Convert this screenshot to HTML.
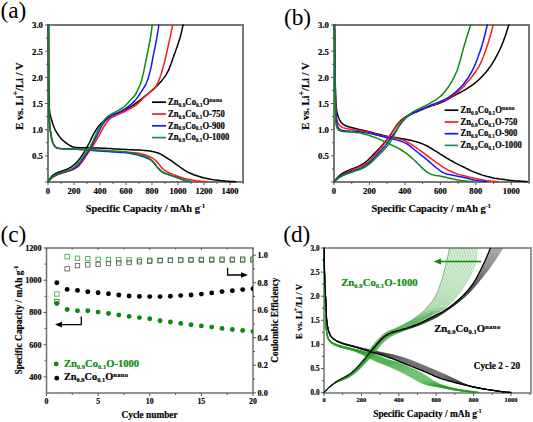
<!DOCTYPE html><html><head><meta charset="utf-8"><style>html,body{margin:0;padding:0;background:#fff;}svg{display:block;font-family:"Liberation Serif",serif;font-variant-ligatures:none;font-kerning:normal;}</style></head><body><svg width="533" height="422" viewBox="0 0 533 422" font-family="Liberation Serif, serif">
<rect width="533" height="422" fill="#fff"/>
<rect x="48" y="25" width="195" height="157" fill="none" stroke="#787878" stroke-width="2"/>
<line x1="48.00" y1="182" x2="48.00" y2="185" stroke="#555" stroke-width="1"/>
<line x1="61.00" y1="182" x2="61.00" y2="184" stroke="#555" stroke-width="1"/>
<line x1="74.00" y1="182" x2="74.00" y2="185" stroke="#555" stroke-width="1"/>
<line x1="87.00" y1="182" x2="87.00" y2="184" stroke="#555" stroke-width="1"/>
<line x1="100.00" y1="182" x2="100.00" y2="185" stroke="#555" stroke-width="1"/>
<line x1="113.00" y1="182" x2="113.00" y2="184" stroke="#555" stroke-width="1"/>
<line x1="126.00" y1="182" x2="126.00" y2="185" stroke="#555" stroke-width="1"/>
<line x1="139.00" y1="182" x2="139.00" y2="184" stroke="#555" stroke-width="1"/>
<line x1="152.00" y1="182" x2="152.00" y2="185" stroke="#555" stroke-width="1"/>
<line x1="165.00" y1="182" x2="165.00" y2="184" stroke="#555" stroke-width="1"/>
<line x1="178.00" y1="182" x2="178.00" y2="185" stroke="#555" stroke-width="1"/>
<line x1="191.00" y1="182" x2="191.00" y2="184" stroke="#555" stroke-width="1"/>
<line x1="204.00" y1="182" x2="204.00" y2="185" stroke="#555" stroke-width="1"/>
<line x1="217.00" y1="182" x2="217.00" y2="184" stroke="#555" stroke-width="1"/>
<line x1="230.00" y1="182" x2="230.00" y2="185" stroke="#555" stroke-width="1"/>
<line x1="243.00" y1="182" x2="243.00" y2="184" stroke="#555" stroke-width="1"/>
<text x="48.00" y="194.4" font-size="8.6" font-weight="bold" text-anchor="middle" fill="#000" stroke="#000" stroke-width="0.18" >0</text>
<text x="74.00" y="194.4" font-size="8.6" font-weight="bold" text-anchor="middle" fill="#000" stroke="#000" stroke-width="0.18" >200</text>
<text x="100.00" y="194.4" font-size="8.6" font-weight="bold" text-anchor="middle" fill="#000" stroke="#000" stroke-width="0.18" >400</text>
<text x="126.00" y="194.4" font-size="8.6" font-weight="bold" text-anchor="middle" fill="#000" stroke="#000" stroke-width="0.18" >600</text>
<text x="152.00" y="194.4" font-size="8.6" font-weight="bold" text-anchor="middle" fill="#000" stroke="#000" stroke-width="0.18" >800</text>
<text x="178.00" y="194.4" font-size="8.6" font-weight="bold" text-anchor="middle" fill="#000" stroke="#000" stroke-width="0.18" >1000</text>
<text x="204.00" y="194.4" font-size="8.6" font-weight="bold" text-anchor="middle" fill="#000" stroke="#000" stroke-width="0.18" >1200</text>
<text x="230.00" y="194.4" font-size="8.6" font-weight="bold" text-anchor="middle" fill="#000" stroke="#000" stroke-width="0.18" >1400</text>
<line x1="45" y1="182.00" x2="48" y2="182.00" stroke="#555" stroke-width="1"/>
<line x1="46" y1="168.92" x2="48" y2="168.92" stroke="#555" stroke-width="1"/>
<line x1="45" y1="155.83" x2="48" y2="155.83" stroke="#555" stroke-width="1"/>
<line x1="46" y1="142.75" x2="48" y2="142.75" stroke="#555" stroke-width="1"/>
<line x1="45" y1="129.67" x2="48" y2="129.67" stroke="#555" stroke-width="1"/>
<line x1="46" y1="116.58" x2="48" y2="116.58" stroke="#555" stroke-width="1"/>
<line x1="45" y1="103.50" x2="48" y2="103.50" stroke="#555" stroke-width="1"/>
<line x1="46" y1="90.42" x2="48" y2="90.42" stroke="#555" stroke-width="1"/>
<line x1="45" y1="77.33" x2="48" y2="77.33" stroke="#555" stroke-width="1"/>
<line x1="46" y1="64.25" x2="48" y2="64.25" stroke="#555" stroke-width="1"/>
<line x1="45" y1="51.17" x2="48" y2="51.17" stroke="#555" stroke-width="1"/>
<line x1="46" y1="38.08" x2="48" y2="38.08" stroke="#555" stroke-width="1"/>
<line x1="45" y1="25.00" x2="48" y2="25.00" stroke="#555" stroke-width="1"/>
<text x="43.00" y="159.23" font-size="8.8" font-weight="bold" text-anchor="end" fill="#000" stroke="#000" stroke-width="0.18" >0.5</text>
<text x="43.00" y="133.07" font-size="8.8" font-weight="bold" text-anchor="end" fill="#000" stroke="#000" stroke-width="0.18" >1.0</text>
<text x="43.00" y="106.90" font-size="8.8" font-weight="bold" text-anchor="end" fill="#000" stroke="#000" stroke-width="0.18" >1.5</text>
<text x="43.00" y="80.73" font-size="8.8" font-weight="bold" text-anchor="end" fill="#000" stroke="#000" stroke-width="0.18" >2.0</text>
<text x="43.00" y="54.57" font-size="8.8" font-weight="bold" text-anchor="end" fill="#000" stroke="#000" stroke-width="0.18" >2.5</text>
<text x="43.00" y="28.40" font-size="8.8" font-weight="bold" text-anchor="end" fill="#000" stroke="#000" stroke-width="0.18" >3.0</text>
<text x="85.7" y="211.5" font-size="10.8" font-weight="bold" text-anchor="start" fill="#000" stroke="#000" stroke-width="0.18" textLength="119.3" lengthAdjust="spacingAndGlyphs" >Specific Capacity / mAh g<tspan font-size="6.5" dy="-4">-1</tspan></text>
<g transform="translate(22.7,96.1) rotate(-90)">
<text x="0" y="0" font-size="11.2" font-weight="bold" text-anchor="middle" fill="#000" stroke="#000" stroke-width="0.18" textLength="67.4" lengthAdjust="spacingAndGlyphs" >E vs. Li<tspan font-size="8.5" dy="-4.5">+</tspan><tspan dy="4.5">/Li / V</tspan></text>
</g>
<text x="0.5" y="17.6" font-size="23.3" font-weight="normal" text-anchor="start" fill="#000" >(a)</text>
<path d="M48.5 25.0 48.5 27.5 48.5 30.0 48.5 32.5 48.6 35.0 48.6 37.5 48.6 40.0 48.6 42.6 48.6 45.1 48.6 47.6 48.7 50.1 48.7 52.6 48.7 55.1 48.7 57.6 48.7 60.1 48.7 62.6 48.7 65.1 48.8 67.6 48.8 70.1 48.8 72.7 48.8 75.2 48.8 77.7 48.9 80.2 48.9 82.7 48.9 85.2 48.9 87.7 48.9 90.2 49.0 92.7 49.0 95.2 49.0 97.7 49.1 100.2 49.1 102.8 49.2 105.3 49.3 107.8 49.5 110.3 49.8 112.8 50.3 115.2 50.9 117.7 51.6 120.1 52.4 122.5 53.1 124.8 54.0 127.2 55.0 129.5 56.2 131.7 57.5 133.8 59.0 135.9 60.5 137.9 62.2 139.7 64.1 141.4 66.0 142.9 68.1 144.4 70.2 145.7 72.5 146.8 74.9 147.3 77.4 147.5 79.9 147.7 82.4 147.8 84.9 147.8 87.4 147.8 89.9 147.9 92.4 147.9 94.9 148.0 97.5 148.0 100.0 148.1 102.5 148.2 105.0 148.3 107.5 148.5 110.0 148.6 112.5 148.7 115.0 148.9 117.5 149.0 120.0 149.2 122.5 149.3 125.0 149.4 127.5 149.6 130.0 149.7 132.5 149.8 135.0 149.9 137.5 150.0 140.0 150.1 142.5 150.3 145.0 150.4 147.5 150.7 150.0 151.0 152.5 151.5 154.9 152.1 157.3 152.8 159.7 153.7 161.9 154.8 164.0 156.1 166.1 157.5 168.3 158.8 170.4 160.1 172.5 161.6 174.5 163.1 176.5 164.6 178.5 166.0 180.6 167.5 182.6 168.9 184.7 170.3 186.9 171.6 189.1 172.8 191.4 173.8 193.7 174.7 196.1 175.5 198.5 176.3 200.9 177.0 203.3 177.7 205.7 178.3 208.2 178.8 210.7 179.3 213.1 179.7 215.6 180.0 218.1 180.3 220.6 180.6 223.1 180.8 225.6 181.1 228.1 181.3 230.6 181.5 233.1 181.6 235.6 181.8" fill="none" stroke="#000" stroke-width="1.5" stroke-linejoin="round" stroke-linecap="round"/>
<path d="M48.3 181.5 49.5 179.3 50.9 177.2 52.6 175.4 54.7 174.0 56.9 172.9 59.3 172.0 61.7 171.1 64.0 170.3 66.4 169.4 68.7 168.4 70.9 167.1 73.0 165.7 74.9 164.2 76.7 162.4 78.3 160.5 79.9 158.5 81.3 156.4 82.8 154.4 84.1 152.3 85.4 150.1 86.7 147.9 87.8 145.7 89.0 143.5 90.1 141.2 91.2 138.9 92.3 136.7 93.4 134.4 94.7 132.2 96.0 130.1 97.3 128.0 98.8 126.0 100.5 124.1 102.3 122.3 104.2 120.7 106.2 119.1 108.2 117.6 110.3 116.3 112.6 115.1 114.9 114.1 117.2 113.2 119.6 112.3 121.9 111.3 124.1 110.2 126.4 109.1 128.6 107.9 130.8 106.6 132.9 105.3 135.0 103.9 137.0 102.4 139.0 100.9 141.0 99.3 143.0 97.8 144.9 96.2 146.9 94.6 148.8 93.0 150.7 91.4 152.6 89.7 154.5 88.1 156.4 86.4 158.2 84.6 159.9 82.8 161.5 80.9 163.1 78.9 164.7 76.9 166.1 74.8 167.3 72.7 168.4 70.4 169.4 68.1 170.3 65.7 171.2 63.4 172.0 61.0 172.8 58.6 173.7 56.3 174.5 53.9 175.4 51.5 176.2 49.2 177.1 46.8 177.9 44.4 178.7 42.0 179.5 39.6 180.2 37.2 180.8 34.8 181.4 32.4 182.0 29.9 182.5 27.5 183.1 25.0" fill="none" stroke="#000" stroke-width="1.5" stroke-linejoin="round" stroke-linecap="round"/>
<path d="M48.5 25.0 48.5 27.5 48.5 30.0 48.5 32.5 48.5 35.0 48.5 37.5 48.5 40.0 48.5 42.5 48.5 45.1 48.5 47.6 48.5 50.1 48.5 52.6 48.5 55.1 48.5 57.6 48.5 60.1 48.5 62.6 48.5 65.1 48.6 67.6 48.6 70.1 48.6 72.6 48.6 75.1 48.6 77.6 48.6 80.1 48.6 82.6 48.6 85.2 48.6 87.7 48.7 90.2 48.7 92.7 48.7 95.2 48.7 97.7 48.7 100.2 48.8 102.7 48.8 105.2 48.8 107.7 48.9 110.2 49.0 112.7 49.1 115.2 49.2 117.7 49.3 120.2 49.5 122.7 49.8 125.2 50.1 127.7 50.4 130.2 50.7 132.7 51.1 135.2 51.5 137.6 52.0 140.1 52.8 142.5 53.8 144.8 55.2 146.8 57.3 148.2 59.8 148.6 62.3 148.7 64.8 148.9 67.3 148.9 69.8 149.0 72.3 149.1 74.8 149.2 77.3 149.3 79.8 149.4 82.3 149.5 84.8 149.6 87.3 149.7 89.8 149.8 92.3 149.9 94.8 150.0 97.3 150.2 99.8 150.3 102.3 150.4 104.8 150.6 107.3 150.8 109.8 150.9 112.3 151.1 114.8 151.3 117.3 151.4 119.8 151.6 122.3 151.8 124.8 152.0 127.3 152.2 129.8 152.4 132.3 152.5 134.8 152.8 137.3 153.1 139.8 153.5 142.2 154.1 144.6 154.7 147.0 155.5 149.3 156.5 151.6 157.6 153.7 159.0 155.6 160.5 157.4 162.3 159.0 164.3 160.5 166.3 162.1 168.1 164.0 169.8 166.1 171.2 168.3 172.5 170.5 173.5 172.9 174.4 175.2 175.3 177.6 176.2 179.9 177.0 182.3 177.8 184.7 178.5 187.2 179.1 189.6 179.6 192.1 180.1 194.5 180.5 197.0 180.9 199.5 181.1 202.0 181.4 204.5 181.6 207.0 181.8" fill="none" stroke="#ff1a1a" stroke-width="1.5" stroke-linejoin="round" stroke-linecap="round"/>
<path d="M48.3 181.5 50.1 179.7 51.9 178.0 54.0 176.5 56.2 175.3 58.5 174.3 60.9 173.5 63.3 172.7 65.7 172.0 68.1 171.3 70.6 170.5 72.9 169.6 75.2 168.5 77.3 167.1 79.2 165.4 80.8 163.5 82.4 161.5 83.8 159.4 85.1 157.3 86.5 155.2 88.0 153.1 89.5 151.1 90.9 149.0 92.3 146.9 93.7 144.8 94.9 142.6 96.2 140.4 97.5 138.2 98.8 136.1 100.0 133.9 101.2 131.7 102.4 129.4 103.6 127.2 104.9 125.0 106.2 122.9 107.8 120.9 109.6 119.1 111.7 117.7 113.9 116.5 116.2 115.4 118.5 114.4 120.8 113.4 123.1 112.3 125.4 111.2 127.6 110.1 129.9 108.9 132.1 107.7 134.2 106.4 136.3 104.9 138.1 103.2 139.9 101.4 141.7 99.6 143.5 97.8 145.4 96.1 147.2 94.4 149.2 92.8 151.2 91.3 153.2 89.8 155.0 88.0 156.4 85.9 157.5 83.6 158.5 81.3 159.4 78.9 160.3 76.6 161.1 74.2 161.8 71.7 162.5 69.3 163.2 66.9 163.8 64.4 164.5 62.0 165.1 59.5 165.7 57.1 166.3 54.6 166.8 52.2 167.4 49.7 167.9 47.2 168.5 44.8 169.0 42.3 169.5 39.8 170.1 37.4 170.6 34.9 171.1 32.4 171.6 29.9 172.2 27.5 172.7 25.0" fill="none" stroke="#ff1a1a" stroke-width="1.5" stroke-linejoin="round" stroke-linecap="round"/>
<path d="M48.5 25.0 48.5 27.5 48.5 30.0 48.5 32.5 48.5 35.1 48.5 37.6 48.5 40.1 48.5 42.6 48.5 45.1 48.5 47.6 48.5 50.2 48.5 52.7 48.5 55.2 48.5 57.7 48.5 60.2 48.5 62.7 48.5 65.3 48.6 67.8 48.6 70.3 48.6 72.8 48.6 75.3 48.6 77.8 48.6 80.4 48.6 82.9 48.6 85.4 48.6 87.9 48.7 90.4 48.7 92.9 48.7 95.5 48.7 98.0 48.7 100.5 48.8 103.0 48.8 105.5 48.9 108.0 48.9 110.5 49.0 113.1 49.1 115.6 49.2 118.1 49.4 120.6 49.6 123.1 49.8 125.6 50.1 128.1 50.4 130.6 50.7 133.1 51.1 135.6 51.6 138.1 52.1 140.5 52.9 142.9 54.0 145.2 55.5 147.1 57.7 148.3 60.2 148.6 62.8 148.7 65.3 148.8 67.8 148.9 70.3 149.0 72.8 149.1 75.3 149.2 77.8 149.3 80.4 149.4 82.9 149.6 85.4 149.8 87.9 150.0 90.4 150.3 92.9 150.5 95.4 150.7 97.9 150.9 100.4 151.1 102.9 151.3 105.4 151.5 107.9 151.6 110.5 151.8 113.0 151.9 115.5 152.1 118.0 152.2 120.5 152.4 123.0 152.6 125.5 152.8 128.0 153.1 130.5 153.5 133.0 153.9 135.4 154.5 137.9 155.1 140.3 155.8 142.7 156.5 145.1 157.3 147.4 158.3 149.7 159.4 151.8 160.8 153.6 162.4 155.3 164.4 156.7 166.4 158.3 168.4 160.1 170.1 162.0 171.7 164.2 173.0 166.5 173.9 168.9 174.7 171.3 175.6 173.7 176.4 176.1 177.2 178.4 178.1 180.8 179.0 183.1 179.8 185.6 180.4 188.0 181.0 190.5 181.5" fill="none" stroke="#1414ff" stroke-width="1.5" stroke-linejoin="round" stroke-linecap="round"/>
<path d="M48.3 181.5 50.0 179.6 51.7 177.8 53.7 176.2 55.8 175.0 58.1 174.0 60.5 173.2 62.9 172.4 65.3 171.7 67.7 171.0 70.1 170.2 72.5 169.3 74.7 168.1 76.7 166.7 78.6 165.0 80.2 163.1 81.7 161.1 83.1 159.0 84.5 156.9 85.9 154.8 87.4 152.8 88.8 150.7 90.2 148.6 91.5 146.4 92.6 144.2 93.7 141.9 94.8 139.7 96.0 137.4 97.2 135.2 98.3 133.0 99.4 130.7 100.5 128.5 101.6 126.2 102.9 124.1 104.4 122.0 106.0 120.1 107.9 118.4 109.9 116.9 112.1 115.7 114.3 114.5 116.6 113.5 118.8 112.4 121.1 111.2 123.2 109.9 125.3 108.6 127.4 107.2 129.4 105.7 131.4 104.1 133.2 102.4 135.0 100.6 136.6 98.6 138.0 96.6 139.4 94.5 140.8 92.4 142.2 90.3 143.6 88.2 144.9 86.0 146.0 83.8 147.0 81.5 147.9 79.1 148.6 76.7 149.3 74.3 149.9 71.9 150.5 69.4 151.1 67.0 151.6 64.5 152.1 62.1 152.5 59.6 153.0 57.1 153.5 54.7 154.0 52.2 154.5 49.7 155.0 47.3 155.5 44.8 156.0 42.3 156.4 39.9 156.9 37.4 157.3 34.9 157.7 32.4 158.1 30.0 158.5 27.5 158.9 25.0" fill="none" stroke="#1414ff" stroke-width="1.5" stroke-linejoin="round" stroke-linecap="round"/>
<path d="M48.5 25.0 48.5 27.5 48.5 30.0 48.5 32.6 48.5 35.1 48.5 37.6 48.5 40.1 48.5 42.6 48.5 45.2 48.5 47.7 48.5 50.2 48.5 52.7 48.5 55.2 48.5 57.8 48.5 60.3 48.5 62.8 48.5 65.3 48.6 67.8 48.6 70.4 48.6 72.9 48.6 75.4 48.6 77.9 48.6 80.4 48.6 83.0 48.6 85.5 48.6 88.0 48.7 90.5 48.7 93.1 48.7 95.6 48.7 98.1 48.7 100.6 48.8 103.1 48.8 105.7 48.9 108.2 48.9 110.7 49.0 113.2 49.1 115.7 49.2 118.2 49.4 120.8 49.6 123.3 49.8 125.8 50.1 128.3 50.4 130.8 50.8 133.3 51.2 135.8 51.6 138.3 52.2 140.7 53.0 143.1 54.1 145.4 55.7 147.3 58.0 148.3 60.5 148.6 63.0 148.8 65.5 148.9 68.0 149.0 70.5 149.1 73.0 149.1 75.6 149.2 78.1 149.3 80.6 149.4 83.1 149.5 85.6 149.6 88.2 149.7 90.7 149.8 93.2 149.9 95.7 150.1 98.2 150.2 100.7 150.3 103.3 150.5 105.8 150.6 108.3 150.8 110.8 150.9 113.3 151.1 115.8 151.2 118.4 151.4 120.9 151.6 123.4 151.8 125.9 152.1 128.4 152.4 130.9 152.7 133.4 153.2 135.8 153.8 138.3 154.4 140.7 155.1 143.1 155.8 145.5 156.6 147.8 157.6 149.9 158.9 151.9 160.5 153.6 162.4 155.2 164.3 156.7 166.4 158.3 168.3 160.0 170.1 162.0 171.7 164.2 173.0 166.5 173.9 168.9 174.7 171.3 175.6 173.7 176.4 176.0 177.2 178.4 178.1 180.7 179.0 183.1 179.8 185.6 180.4 188.0 181.0 190.5 181.5" fill="none" stroke="#0a8a14" stroke-width="1.5" stroke-linejoin="round" stroke-linecap="round"/>
<path d="M48.3 181.5 49.9 179.5 51.5 177.6 53.4 176.0 55.6 174.7 57.9 173.7 60.3 172.9 62.7 172.1 65.1 171.3 67.5 170.5 69.8 169.6 72.1 168.6 74.3 167.2 76.2 165.6 78.0 163.8 79.6 161.9 81.0 159.8 82.5 157.8 83.9 155.7 85.4 153.7 86.9 151.6 88.4 149.6 89.7 147.5 90.9 145.3 92.1 143.0 93.2 140.7 94.2 138.4 95.3 136.1 96.3 133.9 97.4 131.6 98.5 129.3 99.7 127.1 100.9 124.9 102.3 122.7 103.7 120.7 105.3 118.7 107.1 117.0 109.1 115.4 111.3 114.1 113.5 113.0 115.7 111.8 117.9 110.6 120.1 109.3 122.3 108.0 124.3 106.5 126.2 104.8 127.9 103.0 129.5 101.1 131.2 99.2 133.0 97.4 134.7 95.5 136.1 93.4 137.2 91.2 138.3 88.9 139.3 86.6 140.2 84.2 141.0 81.9 141.8 79.4 142.4 77.0 143.0 74.6 143.6 72.1 144.1 69.6 144.6 67.2 145.1 64.7 145.6 62.2 146.1 59.7 146.6 57.3 147.1 54.8 147.6 52.3 148.1 49.9 148.6 47.4 149.1 44.9 149.6 42.5 150.1 40.0 150.5 37.5 150.9 35.0 151.3 32.5 151.6 30.0 151.9 27.5 152.2 25.0" fill="none" stroke="#0a8a14" stroke-width="1.5" stroke-linejoin="round" stroke-linecap="round"/>
<line x1="152" y1="102.2" x2="166" y2="102.2" stroke="#000" stroke-width="1.7"/>
<text x="168" y="104.90" font-size="9.8" font-weight="bold" text-anchor="start" fill="#000" stroke="#000" stroke-width="0.18" textLength="54.3" lengthAdjust="spacingAndGlyphs" >Zn<tspan font-size="6.08" dy="1.96">0.9</tspan><tspan dy="-1.96">Co</tspan><tspan font-size="6.08" dy="1.96">0.1</tspan><tspan dy="-1.96">O</tspan><tspan font-size="6.27" dy="-2.94" letter-spacing="0.3">nano</tspan></text>
<line x1="152" y1="114.0" x2="166" y2="114.0" stroke="#ff1a1a" stroke-width="1.7"/>
<text x="168" y="116.70" font-size="9.8" font-weight="bold" text-anchor="start" fill="#000" stroke="#000" stroke-width="0.18" textLength="56.9" lengthAdjust="spacingAndGlyphs" >Zn<tspan font-size="6.08" dy="1.96">0.9</tspan><tspan dy="-1.96">Co</tspan><tspan font-size="6.08" dy="1.96">0.1</tspan><tspan dy="-1.96">O</tspan>-750</text>
<line x1="152" y1="125.8" x2="166" y2="125.8" stroke="#1414ff" stroke-width="1.7"/>
<text x="168" y="128.50" font-size="9.8" font-weight="bold" text-anchor="start" fill="#000" stroke="#000" stroke-width="0.18" textLength="56.9" lengthAdjust="spacingAndGlyphs" >Zn<tspan font-size="6.08" dy="1.96">0.9</tspan><tspan dy="-1.96">Co</tspan><tspan font-size="6.08" dy="1.96">0.1</tspan><tspan dy="-1.96">O</tspan>-900</text>
<line x1="152" y1="137.6" x2="166" y2="137.6" stroke="#1e8a5a" stroke-width="1.7"/>
<text x="168" y="140.30" font-size="9.8" font-weight="bold" text-anchor="start" fill="#000" stroke="#000" stroke-width="0.18" textLength="61.3" lengthAdjust="spacingAndGlyphs" >Zn<tspan font-size="6.08" dy="1.96">0.9</tspan><tspan dy="-1.96">Co</tspan><tspan font-size="6.08" dy="1.96">0.1</tspan><tspan dy="-1.96">O</tspan>-1000</text>
<rect x="334" y="25" width="195" height="157" fill="none" stroke="#787878" stroke-width="2"/>
<line x1="334.00" y1="182" x2="334.00" y2="185" stroke="#555" stroke-width="1"/>
<line x1="351.73" y1="182" x2="351.73" y2="184" stroke="#555" stroke-width="1"/>
<line x1="369.45" y1="182" x2="369.45" y2="185" stroke="#555" stroke-width="1"/>
<line x1="387.18" y1="182" x2="387.18" y2="184" stroke="#555" stroke-width="1"/>
<line x1="404.91" y1="182" x2="404.91" y2="185" stroke="#555" stroke-width="1"/>
<line x1="422.64" y1="182" x2="422.64" y2="184" stroke="#555" stroke-width="1"/>
<line x1="440.36" y1="182" x2="440.36" y2="185" stroke="#555" stroke-width="1"/>
<line x1="458.09" y1="182" x2="458.09" y2="184" stroke="#555" stroke-width="1"/>
<line x1="475.82" y1="182" x2="475.82" y2="185" stroke="#555" stroke-width="1"/>
<line x1="493.55" y1="182" x2="493.55" y2="184" stroke="#555" stroke-width="1"/>
<line x1="511.27" y1="182" x2="511.27" y2="185" stroke="#555" stroke-width="1"/>
<line x1="529.00" y1="182" x2="529.00" y2="184" stroke="#555" stroke-width="1"/>
<text x="334.00" y="194.4" font-size="8.6" font-weight="bold" text-anchor="middle" fill="#000" stroke="#000" stroke-width="0.18" >0</text>
<text x="369.45" y="194.4" font-size="8.6" font-weight="bold" text-anchor="middle" fill="#000" stroke="#000" stroke-width="0.18" >200</text>
<text x="404.91" y="194.4" font-size="8.6" font-weight="bold" text-anchor="middle" fill="#000" stroke="#000" stroke-width="0.18" >400</text>
<text x="440.36" y="194.4" font-size="8.6" font-weight="bold" text-anchor="middle" fill="#000" stroke="#000" stroke-width="0.18" >600</text>
<text x="475.82" y="194.4" font-size="8.6" font-weight="bold" text-anchor="middle" fill="#000" stroke="#000" stroke-width="0.18" >800</text>
<text x="511.27" y="194.4" font-size="8.6" font-weight="bold" text-anchor="middle" fill="#000" stroke="#000" stroke-width="0.18" >1000</text>
<line x1="331" y1="182.00" x2="334" y2="182.00" stroke="#555" stroke-width="1"/>
<line x1="332" y1="168.92" x2="334" y2="168.92" stroke="#555" stroke-width="1"/>
<line x1="331" y1="155.83" x2="334" y2="155.83" stroke="#555" stroke-width="1"/>
<line x1="332" y1="142.75" x2="334" y2="142.75" stroke="#555" stroke-width="1"/>
<line x1="331" y1="129.67" x2="334" y2="129.67" stroke="#555" stroke-width="1"/>
<line x1="332" y1="116.58" x2="334" y2="116.58" stroke="#555" stroke-width="1"/>
<line x1="331" y1="103.50" x2="334" y2="103.50" stroke="#555" stroke-width="1"/>
<line x1="332" y1="90.42" x2="334" y2="90.42" stroke="#555" stroke-width="1"/>
<line x1="331" y1="77.33" x2="334" y2="77.33" stroke="#555" stroke-width="1"/>
<line x1="332" y1="64.25" x2="334" y2="64.25" stroke="#555" stroke-width="1"/>
<line x1="331" y1="51.17" x2="334" y2="51.17" stroke="#555" stroke-width="1"/>
<line x1="332" y1="38.08" x2="334" y2="38.08" stroke="#555" stroke-width="1"/>
<line x1="331" y1="25.00" x2="334" y2="25.00" stroke="#555" stroke-width="1"/>
<text x="329.00" y="159.23" font-size="8.8" font-weight="bold" text-anchor="end" fill="#000" stroke="#000" stroke-width="0.18" >0.5</text>
<text x="329.00" y="133.07" font-size="8.8" font-weight="bold" text-anchor="end" fill="#000" stroke="#000" stroke-width="0.18" >1.0</text>
<text x="329.00" y="106.90" font-size="8.8" font-weight="bold" text-anchor="end" fill="#000" stroke="#000" stroke-width="0.18" >1.5</text>
<text x="329.00" y="80.73" font-size="8.8" font-weight="bold" text-anchor="end" fill="#000" stroke="#000" stroke-width="0.18" >2.0</text>
<text x="329.00" y="54.57" font-size="8.8" font-weight="bold" text-anchor="end" fill="#000" stroke="#000" stroke-width="0.18" >2.5</text>
<text x="329.00" y="28.40" font-size="8.8" font-weight="bold" text-anchor="end" fill="#000" stroke="#000" stroke-width="0.18" >3.0</text>
<text x="371.4" y="211.5" font-size="10.8" font-weight="bold" text-anchor="start" fill="#000" stroke="#000" stroke-width="0.18" textLength="119.6" lengthAdjust="spacingAndGlyphs" >Specific Capacity / mAh g<tspan font-size="6.5" dy="-4">-1</tspan></text>
<g transform="translate(308.5,96.1) rotate(-90)">
<text x="0" y="0" font-size="11.2" font-weight="bold" text-anchor="middle" fill="#000" stroke="#000" stroke-width="0.18" textLength="67.4" lengthAdjust="spacingAndGlyphs" >E vs. Li<tspan font-size="8.5" dy="-4.5">+</tspan><tspan dy="4.5">/Li / V</tspan></text>
</g>
<text x="283.9" y="25.1" font-size="23.3" font-weight="normal" text-anchor="start" fill="#000" >(b)</text>
<path d="M334.5 25.0 334.5 27.5 334.6 30.0 334.6 32.5 334.6 35.0 334.7 37.5 334.7 40.0 334.7 42.6 334.7 45.1 334.8 47.6 334.8 50.1 334.8 52.6 334.9 55.1 334.9 57.6 334.9 60.1 335.0 62.6 335.0 65.1 335.0 67.6 335.1 70.1 335.1 72.7 335.1 75.2 335.2 77.7 335.2 80.2 335.2 82.7 335.3 85.2 335.3 87.7 335.4 90.2 335.4 92.7 335.5 95.2 335.6 97.7 335.7 100.2 335.8 102.7 336.0 105.2 336.3 107.7 336.6 110.2 337.1 112.7 337.7 115.1 338.5 117.5 339.6 119.8 340.8 121.9 342.5 123.8 344.6 125.2 346.9 126.2 349.3 127.0 351.7 127.6 354.1 128.2 356.6 128.8 359.0 129.4 361.5 130.0 363.9 130.6 366.3 131.1 368.8 131.7 371.2 132.3 373.6 132.9 376.1 133.6 378.5 134.2 380.9 134.8 383.4 135.4 385.8 136.0 388.3 136.5 390.8 136.9 393.2 137.2 395.7 137.6 398.2 138.0 400.7 138.4 403.2 138.7 405.6 139.2 408.1 139.7 410.5 140.2 413.0 140.9 415.4 141.5 417.8 142.2 420.2 143.0 422.5 143.9 424.8 144.9 427.1 146.0 429.2 147.2 431.4 148.5 433.5 149.8 435.7 151.1 437.8 152.4 439.9 153.8 442.1 155.1 444.2 156.5 446.3 157.8 448.5 159.0 450.6 160.3 452.8 161.5 455.0 162.8 457.2 163.9 459.5 165.1 461.7 166.1 464.0 167.2 466.2 168.4 468.5 169.5 470.7 170.6 473.0 171.6 475.4 172.5 477.7 173.4 480.1 174.3 482.5 175.1 484.8 175.8 487.3 176.5 489.7 177.1 492.1 177.7 494.6 178.2 497.1 178.6 499.5 179.0 502.0 179.3 504.5 179.6 507.0 179.9 509.5 180.2 512.0 180.4 514.5 180.7 517.0 180.9 519.5 181.1 522.0 181.3 524.5 181.5 527.0 181.6" fill="none" stroke="#000" stroke-width="1.5" stroke-linejoin="round" stroke-linecap="round"/>
<path d="M334.3 181.5 335.8 179.5 337.4 177.6 339.2 175.8 341.2 174.2 343.3 172.9 345.5 171.7 347.8 170.7 350.1 169.7 352.5 168.8 354.8 167.9 357.2 167.0 359.5 165.9 361.7 164.7 363.8 163.4 365.8 161.9 367.7 160.3 369.5 158.5 371.3 156.7 373.0 154.9 374.8 153.1 376.6 151.3 378.3 149.5 380.0 147.7 381.7 145.8 383.3 143.9 384.9 142.0 386.5 140.0 388.1 138.1 389.6 136.0 391.0 134.0 392.3 131.8 393.7 129.7 395.1 127.6 396.5 125.5 398.1 123.6 399.7 121.7 401.5 119.9 403.5 118.3 405.5 116.9 407.7 115.6 409.9 114.5 412.3 113.6 414.6 112.6 416.9 111.7 419.2 110.7 421.6 109.7 423.9 108.8 426.2 107.9 428.6 107.0 431.0 106.1 433.3 105.3 435.7 104.6 438.1 103.7 440.5 102.9 442.8 101.9 445.0 100.8 447.3 99.6 449.5 98.4 451.6 97.1 453.8 95.9 456.0 94.6 458.2 93.5 460.5 92.3 462.7 91.2 464.9 89.9 467.0 88.6 469.1 87.2 471.2 85.8 473.2 84.4 475.2 82.8 477.2 81.2 479.0 79.5 480.8 77.7 482.6 75.9 484.3 74.1 485.9 72.2 487.5 70.2 489.0 68.2 490.5 66.2 491.9 64.1 493.2 62.0 494.5 59.8 495.7 57.6 496.9 55.4 498.1 53.2 499.2 50.9 500.3 48.6 501.3 46.3 502.2 44.0 503.2 41.7 504.0 39.3 504.9 36.9 505.7 34.6 506.5 32.2 507.2 29.8 508.0 27.4 508.8 25.0" fill="none" stroke="#000" stroke-width="1.5" stroke-linejoin="round" stroke-linecap="round"/>
<path d="M334.5 25.0 334.5 27.5 334.6 30.0 334.6 32.5 334.6 35.0 334.7 37.5 334.7 40.0 334.7 42.5 334.7 45.0 334.8 47.5 334.8 50.0 334.8 52.5 334.9 55.0 334.9 57.5 334.9 60.0 335.0 62.5 335.0 65.0 335.0 67.5 335.1 70.0 335.1 72.5 335.1 75.0 335.2 77.5 335.2 80.0 335.2 82.5 335.3 85.0 335.3 87.5 335.4 90.0 335.4 92.5 335.5 95.0 335.6 97.5 335.6 100.0 335.7 102.5 335.8 105.0 335.9 107.5 335.9 110.0 336.0 112.5 336.2 115.0 336.5 117.5 337.0 119.9 337.7 122.3 338.9 124.5 340.6 126.3 342.7 127.6 345.1 128.3 347.6 128.7 350.1 129.0 352.5 129.4 355.0 129.8 357.5 130.2 359.9 130.7 362.4 131.1 364.9 131.6 367.3 132.1 369.7 132.6 372.2 133.3 374.6 133.9 377.0 134.5 379.4 135.2 381.8 135.8 384.3 136.3 386.7 136.8 389.2 137.1 391.7 137.4 394.2 137.8 396.6 138.3 399.0 138.9 401.5 139.6 403.8 140.4 406.1 141.3 408.4 142.5 410.5 143.8 412.6 145.2 414.6 146.6 416.7 148.0 418.7 149.5 420.8 150.9 422.8 152.4 424.8 153.8 426.8 155.3 428.8 156.8 430.8 158.3 432.8 159.8 434.8 161.3 436.9 162.8 438.9 164.2 440.9 165.7 443.0 167.1 445.1 168.4 447.3 169.7 449.5 170.8 451.8 171.8 454.1 172.8 456.4 173.7 458.8 174.4 461.2 175.1 463.7 175.7 466.1 176.3 468.5 176.9 471.0 177.4 473.4 178.0 475.8 178.5 478.3 179.0 480.7 179.5 483.2 180.0 485.7 180.4 488.1 180.7 490.6 181.0 493.1 181.2 495.6 181.4 498.1 181.6" fill="none" stroke="#ff1a1a" stroke-width="1.5" stroke-linejoin="round" stroke-linecap="round"/>
<path d="M334.3 181.5 336.0 179.7 337.8 177.9 339.7 176.3 341.8 174.9 344.0 173.7 346.3 172.6 348.5 171.5 350.8 170.5 353.1 169.5 355.5 168.6 357.8 167.6 360.1 166.6 362.4 165.6 364.6 164.4 366.7 163.1 368.7 161.5 370.4 159.7 372.1 157.8 373.7 155.9 375.4 154.1 377.1 152.2 378.8 150.3 380.4 148.4 382.1 146.5 383.6 144.6 385.1 142.6 386.6 140.5 388.1 138.5 389.5 136.4 390.9 134.3 392.3 132.3 393.7 130.2 395.1 128.1 396.6 126.1 398.2 124.1 399.9 122.3 401.7 120.5 403.6 118.9 405.6 117.4 407.6 116.0 409.8 114.7 412.1 113.6 414.3 112.5 416.6 111.5 418.9 110.5 421.2 109.5 423.5 108.5 425.9 107.5 428.2 106.6 430.5 105.7 432.9 104.9 435.3 104.1 437.6 103.2 440.0 102.4 442.3 101.4 444.6 100.4 446.9 99.3 449.1 98.1 451.2 96.8 453.3 95.4 455.4 93.9 457.3 92.4 459.2 90.8 461.1 89.0 462.8 87.2 464.5 85.4 466.2 83.5 467.8 81.6 469.5 79.7 471.1 77.8 472.6 75.8 474.2 73.8 475.6 71.8 477.0 69.7 478.3 67.5 479.5 65.3 480.6 63.1 481.7 60.8 482.6 58.5 483.6 56.2 484.4 53.8 485.3 51.4 486.1 49.1 486.9 46.7 487.7 44.3 488.5 41.9 489.2 39.5 489.9 37.1 490.6 34.7 491.2 32.3 491.9 29.8 492.5 27.4 493.2 25.0" fill="none" stroke="#ff1a1a" stroke-width="1.5" stroke-linejoin="round" stroke-linecap="round"/>
<path d="M334.5 25.0 334.5 27.5 334.6 30.0 334.6 32.6 334.6 35.1 334.7 37.6 334.7 40.1 334.7 42.7 334.7 45.2 334.8 47.7 334.8 50.2 334.8 52.7 334.9 55.3 334.9 57.8 334.9 60.3 335.0 62.8 335.0 65.3 335.0 67.9 335.1 70.4 335.1 72.9 335.1 75.4 335.2 78.0 335.2 80.5 335.2 83.0 335.3 85.5 335.3 88.0 335.4 90.6 335.4 93.1 335.5 95.6 335.5 98.1 335.6 100.6 335.7 103.2 335.7 105.7 335.8 108.2 335.9 110.7 335.9 113.3 336.0 115.8 336.2 118.3 336.5 120.8 336.9 123.3 337.4 125.7 338.5 128.0 340.4 129.7 342.8 130.4 345.3 130.7 347.8 130.9 350.3 131.1 352.8 131.2 355.4 131.3 357.9 131.6 360.4 131.9 362.9 132.2 365.4 132.7 367.8 133.1 370.3 133.6 372.8 134.1 375.2 134.7 377.7 135.3 380.1 135.9 382.6 136.6 385.0 137.2 387.4 137.8 389.9 138.3 392.4 138.8 394.8 139.4 397.3 140.1 399.7 140.8 402.1 141.6 404.4 142.6 406.7 143.7 408.8 145.1 410.8 146.6 412.7 148.3 414.6 149.9 416.6 151.5 418.5 153.0 420.5 154.6 422.5 156.1 424.5 157.7 426.5 159.3 428.4 160.9 430.3 162.6 432.2 164.2 434.1 165.9 436.0 167.5 438.0 169.0 440.0 170.6 442.1 172.0 444.4 173.1 446.7 174.0 449.2 174.6 451.7 175.0 454.1 175.4 456.6 175.9 459.1 176.4 461.6 176.9 464.0 177.4 466.5 178.0 468.9 178.7 471.3 179.4 473.8 179.9 476.3 180.3 478.8 180.7 481.3 181.0 483.8 181.3 486.3 181.6" fill="none" stroke="#1414ff" stroke-width="1.5" stroke-linejoin="round" stroke-linecap="round"/>
<path d="M334.3 181.5 336.1 179.7 338.0 178.1 340.1 176.6 342.2 175.3 344.5 174.2 346.8 173.2 349.2 172.2 351.5 171.4 353.9 170.6 356.3 169.7 358.7 168.9 361.0 167.9 363.3 166.8 365.5 165.5 367.5 164.1 369.5 162.4 371.3 160.7 373.1 158.9 374.8 157.1 376.5 155.2 378.2 153.3 379.9 151.5 381.7 149.7 383.4 147.8 385.1 145.9 386.6 143.9 388.1 141.8 389.5 139.8 391.0 137.7 392.4 135.7 393.9 133.6 395.4 131.5 396.8 129.4 398.2 127.4 399.7 125.3 401.2 123.3 402.8 121.3 404.4 119.4 406.2 117.6 408.1 116.0 410.3 114.6 412.5 113.4 414.8 112.3 417.0 111.3 419.3 110.2 421.6 109.2 424.0 108.1 426.3 107.1 428.6 106.1 430.9 105.2 433.3 104.3 435.7 103.4 438.0 102.5 440.4 101.5 442.6 100.5 444.9 99.3 447.1 98.1 449.3 96.8 451.4 95.4 453.4 93.9 455.4 92.3 457.3 90.6 459.1 88.9 460.8 87.1 462.5 85.2 464.1 83.2 465.6 81.2 467.1 79.2 468.6 77.1 469.9 74.9 471.2 72.7 472.3 70.5 473.4 68.2 474.5 65.9 475.5 63.6 476.4 61.3 477.3 58.9 478.2 56.5 479.0 54.1 479.9 51.8 480.7 49.4 481.5 47.0 482.2 44.6 482.9 42.1 483.6 39.7 484.3 37.3 484.9 34.8 485.5 32.4 486.1 29.9 486.7 27.5 487.3 25.0" fill="none" stroke="#1414ff" stroke-width="1.5" stroke-linejoin="round" stroke-linecap="round"/>
<path d="M334.5 25.0 334.5 27.5 334.5 30.0 334.6 32.5 334.6 35.0 334.6 37.6 334.6 40.1 334.7 42.6 334.7 45.1 334.7 47.6 334.7 50.1 334.7 52.6 334.8 55.1 334.8 57.6 334.8 60.1 334.8 62.7 334.9 65.2 334.9 67.7 334.9 70.2 334.9 72.7 335.0 75.2 335.0 77.7 335.0 80.2 335.0 82.7 335.1 85.3 335.1 87.8 335.1 90.3 335.1 92.8 335.2 95.3 335.2 97.8 335.2 100.3 335.3 102.8 335.3 105.3 335.4 107.9 335.4 110.4 335.4 112.9 335.5 115.4 335.5 117.9 335.6 120.4 335.9 122.9 336.2 125.4 336.9 127.8 338.3 129.8 340.5 131.0 343.0 131.5 345.5 131.7 348.0 131.9 350.5 132.0 353.0 132.1 355.5 132.4 358.0 132.7 360.5 133.1 362.9 133.7 365.3 134.4 367.8 135.1 370.1 135.8 372.5 136.6 374.9 137.5 377.2 138.4 379.5 139.4 381.9 140.4 384.1 141.4 386.4 142.4 388.7 143.5 390.9 144.7 393.2 145.7 395.5 146.8 397.7 147.9 399.9 149.2 402.0 150.5 404.1 151.8 406.2 153.3 408.2 154.8 410.1 156.4 412.0 158.1 413.9 159.8 415.7 161.5 417.5 163.2 419.3 165.0 421.0 166.8 422.8 168.6 424.7 170.2 426.7 171.8 428.8 173.1 431.0 174.2 433.5 174.9 435.9 175.4 438.4 175.8 440.9 176.2 443.3 176.7 445.8 177.3 448.2 177.9 450.7 178.5 453.1 179.1 455.6 179.6 458.0 180.0 460.5 180.4 463.0 180.7 465.5 181.0 468.0 181.3 470.5 181.4 473.0 181.6" fill="none" stroke="#0a8a14" stroke-width="1.5" stroke-linejoin="round" stroke-linecap="round"/>
<path d="M334.3 181.5 336.2 179.9 338.2 178.3 340.3 177.0 342.5 175.8 344.8 174.8 347.2 173.9 349.5 173.0 351.9 172.2 354.3 171.4 356.7 170.6 359.0 169.8 361.3 168.8 363.6 167.8 365.8 166.5 367.9 165.1 369.8 163.6 371.7 161.9 373.6 160.2 375.3 158.5 377.1 156.7 378.9 154.9 380.7 153.1 382.4 151.4 384.2 149.5 385.8 147.7 387.5 145.7 389.0 143.8 390.4 141.7 391.8 139.6 393.0 137.4 394.2 135.2 395.3 133.0 396.5 130.7 397.6 128.5 398.8 126.3 400.1 124.1 401.6 122.1 403.2 120.1 404.9 118.3 406.7 116.6 408.6 114.9 410.6 113.5 412.7 112.1 414.9 110.9 417.1 109.7 419.4 108.6 421.6 107.5 423.9 106.4 426.1 105.3 428.4 104.1 430.6 102.9 432.7 101.7 434.9 100.4 437.0 99.0 439.0 97.5 440.9 95.9 442.7 94.1 444.3 92.2 445.9 90.3 447.4 88.3 448.9 86.2 450.2 84.1 451.5 82.0 452.7 79.8 453.9 77.5 455.0 75.3 456.0 73.0 457.0 70.7 457.9 68.3 458.6 65.9 459.3 63.5 460.0 61.1 460.7 58.7 461.3 56.3 461.9 53.8 462.6 51.4 463.2 49.0 463.9 46.6 464.6 44.2 465.4 41.8 466.1 39.4 466.8 37.0 467.6 34.6 468.3 32.2 469.1 29.8 469.8 27.4 470.6 25.0" fill="none" stroke="#0a8a14" stroke-width="1.5" stroke-linejoin="round" stroke-linecap="round"/>
<line x1="444.6" y1="110.2" x2="458.3" y2="110.2" stroke="#000" stroke-width="1.7"/>
<text x="460.5" y="112.90" font-size="9.8" font-weight="bold" text-anchor="start" fill="#000" stroke="#000" stroke-width="0.18" textLength="54.3" lengthAdjust="spacingAndGlyphs" >Zn<tspan font-size="6.08" dy="1.96">0.9</tspan><tspan dy="-1.96">Co</tspan><tspan font-size="6.08" dy="1.96">0.1</tspan><tspan dy="-1.96">O</tspan><tspan font-size="6.27" dy="-2.94" letter-spacing="0.3">nano</tspan></text>
<line x1="444.6" y1="122.0" x2="458.3" y2="122.0" stroke="#ff1a1a" stroke-width="1.7"/>
<text x="460.5" y="124.65" font-size="9.8" font-weight="bold" text-anchor="start" fill="#000" stroke="#000" stroke-width="0.18" textLength="56.9" lengthAdjust="spacingAndGlyphs" >Zn<tspan font-size="6.08" dy="1.96">0.9</tspan><tspan dy="-1.96">Co</tspan><tspan font-size="6.08" dy="1.96">0.1</tspan><tspan dy="-1.96">O</tspan>-750</text>
<line x1="444.6" y1="133.7" x2="458.3" y2="133.7" stroke="#1414ff" stroke-width="1.7"/>
<text x="460.5" y="136.40" font-size="9.8" font-weight="bold" text-anchor="start" fill="#000" stroke="#000" stroke-width="0.18" textLength="56.9" lengthAdjust="spacingAndGlyphs" >Zn<tspan font-size="6.08" dy="1.96">0.9</tspan><tspan dy="-1.96">Co</tspan><tspan font-size="6.08" dy="1.96">0.1</tspan><tspan dy="-1.96">O</tspan>-900</text>
<line x1="444.6" y1="145.4" x2="458.3" y2="145.4" stroke="#1e8a5a" stroke-width="1.7"/>
<text x="460.5" y="148.15" font-size="9.8" font-weight="bold" text-anchor="start" fill="#000" stroke="#000" stroke-width="0.18" textLength="61.3" lengthAdjust="spacingAndGlyphs" >Zn<tspan font-size="6.08" dy="1.96">0.9</tspan><tspan dy="-1.96">Co</tspan><tspan font-size="6.08" dy="1.96">0.1</tspan><tspan dy="-1.96">O</tspan>-1000</text>
<rect x="46.5" y="248" width="206.5" height="145" fill="none" stroke="#787878" stroke-width="1.6"/>
<line x1="46.50" y1="393" x2="46.50" y2="396" stroke="#555" stroke-width="1"/>
<line x1="46.50" y1="248" x2="46.50" y2="250" stroke="#555" stroke-width="1"/>
<line x1="98.12" y1="393" x2="98.12" y2="396" stroke="#555" stroke-width="1"/>
<line x1="98.12" y1="248" x2="98.12" y2="250" stroke="#555" stroke-width="1"/>
<line x1="149.75" y1="393" x2="149.75" y2="396" stroke="#555" stroke-width="1"/>
<line x1="149.75" y1="248" x2="149.75" y2="250" stroke="#555" stroke-width="1"/>
<line x1="201.38" y1="393" x2="201.38" y2="396" stroke="#555" stroke-width="1"/>
<line x1="201.38" y1="248" x2="201.38" y2="250" stroke="#555" stroke-width="1"/>
<line x1="253.00" y1="393" x2="253.00" y2="396" stroke="#555" stroke-width="1"/>
<line x1="253.00" y1="248" x2="253.00" y2="250" stroke="#555" stroke-width="1"/>
<line x1="72.31" y1="393" x2="72.31" y2="395" stroke="#555" stroke-width="1"/>
<line x1="72.31" y1="248" x2="72.31" y2="249.5" stroke="#555" stroke-width="1"/>
<line x1="123.94" y1="393" x2="123.94" y2="395" stroke="#555" stroke-width="1"/>
<line x1="123.94" y1="248" x2="123.94" y2="249.5" stroke="#555" stroke-width="1"/>
<line x1="175.56" y1="393" x2="175.56" y2="395" stroke="#555" stroke-width="1"/>
<line x1="175.56" y1="248" x2="175.56" y2="249.5" stroke="#555" stroke-width="1"/>
<line x1="227.19" y1="393" x2="227.19" y2="395" stroke="#555" stroke-width="1"/>
<line x1="227.19" y1="248" x2="227.19" y2="249.5" stroke="#555" stroke-width="1"/>
<text x="46.50" y="403.6" font-size="7.8" font-weight="bold" text-anchor="middle" fill="#000" stroke="#000" stroke-width="0.18" >0</text>
<text x="98.12" y="403.6" font-size="7.8" font-weight="bold" text-anchor="middle" fill="#000" stroke="#000" stroke-width="0.18" >5</text>
<text x="149.75" y="403.6" font-size="7.8" font-weight="bold" text-anchor="middle" fill="#000" stroke="#000" stroke-width="0.18" >10</text>
<text x="201.38" y="403.6" font-size="7.8" font-weight="bold" text-anchor="middle" fill="#000" stroke="#000" stroke-width="0.18" >15</text>
<text x="253.00" y="403.6" font-size="7.8" font-weight="bold" text-anchor="middle" fill="#000" stroke="#000" stroke-width="0.18" >20</text>
<line x1="43.5" y1="376.89" x2="46.5" y2="376.89" stroke="#555" stroke-width="1"/>
<text x="41.50" y="379.89" font-size="8.2" font-weight="bold" text-anchor="end" fill="#000" stroke="#000" stroke-width="0.18" >400</text>
<line x1="43.5" y1="344.67" x2="46.5" y2="344.67" stroke="#555" stroke-width="1"/>
<text x="41.50" y="347.67" font-size="8.2" font-weight="bold" text-anchor="end" fill="#000" stroke="#000" stroke-width="0.18" >600</text>
<line x1="43.5" y1="312.44" x2="46.5" y2="312.44" stroke="#555" stroke-width="1"/>
<text x="41.50" y="315.44" font-size="8.2" font-weight="bold" text-anchor="end" fill="#000" stroke="#000" stroke-width="0.18" >800</text>
<line x1="43.5" y1="280.22" x2="46.5" y2="280.22" stroke="#555" stroke-width="1"/>
<text x="41.50" y="283.22" font-size="8.2" font-weight="bold" text-anchor="end" fill="#000" stroke="#000" stroke-width="0.18" >1000</text>
<line x1="43.5" y1="248.00" x2="46.5" y2="248.00" stroke="#555" stroke-width="1"/>
<text x="41.50" y="251.00" font-size="8.2" font-weight="bold" text-anchor="end" fill="#000" stroke="#000" stroke-width="0.18" >1200</text>
<line x1="44.5" y1="360.78" x2="46.5" y2="360.78" stroke="#555" stroke-width="1"/>
<line x1="44.5" y1="328.56" x2="46.5" y2="328.56" stroke="#555" stroke-width="1"/>
<line x1="44.5" y1="296.33" x2="46.5" y2="296.33" stroke="#555" stroke-width="1"/>
<line x1="44.5" y1="264.11" x2="46.5" y2="264.11" stroke="#555" stroke-width="1"/>
<line x1="253" y1="392.80" x2="256" y2="392.80" stroke="#555" stroke-width="1"/>
<text x="257.50" y="395.80" font-size="8.2" font-weight="bold" text-anchor="start" fill="#000" stroke="#000" stroke-width="0.18" >0.0</text>
<line x1="253" y1="365.28" x2="256" y2="365.28" stroke="#555" stroke-width="1"/>
<text x="257.50" y="368.28" font-size="8.2" font-weight="bold" text-anchor="start" fill="#000" stroke="#000" stroke-width="0.18" >0.2</text>
<line x1="253" y1="337.76" x2="256" y2="337.76" stroke="#555" stroke-width="1"/>
<text x="257.50" y="340.76" font-size="8.2" font-weight="bold" text-anchor="start" fill="#000" stroke="#000" stroke-width="0.18" >0.4</text>
<line x1="253" y1="310.24" x2="256" y2="310.24" stroke="#555" stroke-width="1"/>
<text x="257.50" y="313.24" font-size="8.2" font-weight="bold" text-anchor="start" fill="#000" stroke="#000" stroke-width="0.18" >0.6</text>
<line x1="253" y1="282.72" x2="256" y2="282.72" stroke="#555" stroke-width="1"/>
<text x="257.50" y="285.72" font-size="8.2" font-weight="bold" text-anchor="start" fill="#000" stroke="#000" stroke-width="0.18" >0.8</text>
<line x1="253" y1="255.20" x2="256" y2="255.20" stroke="#555" stroke-width="1"/>
<text x="257.50" y="258.20" font-size="8.2" font-weight="bold" text-anchor="start" fill="#000" stroke="#000" stroke-width="0.18" >1.0</text>
<line x1="253" y1="379.04" x2="255" y2="379.04" stroke="#555" stroke-width="1"/>
<line x1="253" y1="351.52" x2="255" y2="351.52" stroke="#555" stroke-width="1"/>
<line x1="253" y1="324.00" x2="255" y2="324.00" stroke="#555" stroke-width="1"/>
<line x1="253" y1="296.48" x2="255" y2="296.48" stroke="#555" stroke-width="1"/>
<line x1="253" y1="268.96" x2="255" y2="268.96" stroke="#555" stroke-width="1"/>
<text x="121.5" y="418.3" font-size="9.8" font-weight="bold" text-anchor="start" fill="#000" stroke="#000" stroke-width="0.18" textLength="56.1" lengthAdjust="spacingAndGlyphs" >Cycle number</text>
<g transform="translate(21.6,320.2) rotate(-90)">
<text x="0" y="0" font-size="10.2" font-weight="bold" text-anchor="middle" fill="#000" stroke="#000" stroke-width="0.18" textLength="108.8" lengthAdjust="spacingAndGlyphs" >Specific Capacity / mAh g<tspan font-size="6.2" dy="-4">-1</tspan></text>
</g>
<g transform="translate(278.4,320.1) rotate(-90)">
<text x="0" y="0" font-size="10.8" font-weight="bold" text-anchor="middle" fill="#000" stroke="#000" stroke-width="0.18" textLength="85.2" lengthAdjust="spacingAndGlyphs" >Coulombic Efficiency</text>
</g>
<text x="0.5" y="241.8" font-size="23.3" font-weight="normal" text-anchor="start" fill="#000" >(c)</text>
<defs><clipPath id="cclip"><rect x="46.5" y="248" width="206.5" height="145"/></clipPath></defs><g clip-path="url(#cclip)">
<rect x="54.62" y="291.80" width="4.4" height="4.4" fill="none" stroke="#44aa44" stroke-width="0.85"/>
<rect x="64.95" y="254.50" width="4.4" height="4.4" fill="none" stroke="#44aa44" stroke-width="0.85"/>
<rect x="75.27" y="256.10" width="4.4" height="4.4" fill="none" stroke="#44aa44" stroke-width="0.85"/>
<rect x="85.60" y="256.50" width="4.4" height="4.4" fill="none" stroke="#44aa44" stroke-width="0.85"/>
<rect x="95.92" y="257.10" width="4.4" height="4.4" fill="none" stroke="#44aa44" stroke-width="0.85"/>
<rect x="106.25" y="257.30" width="4.4" height="4.4" fill="none" stroke="#44aa44" stroke-width="0.85"/>
<rect x="116.58" y="257.40" width="4.4" height="4.4" fill="none" stroke="#44aa44" stroke-width="0.85"/>
<rect x="126.90" y="257.60" width="4.4" height="4.4" fill="none" stroke="#44aa44" stroke-width="0.85"/>
<rect x="137.23" y="257.80" width="4.4" height="4.4" fill="none" stroke="#44aa44" stroke-width="0.85"/>
<rect x="147.55" y="257.90" width="4.4" height="4.4" fill="none" stroke="#44aa44" stroke-width="0.85"/>
<rect x="157.88" y="258.00" width="4.4" height="4.4" fill="none" stroke="#44aa44" stroke-width="0.85"/>
<rect x="168.20" y="258.10" width="4.4" height="4.4" fill="none" stroke="#44aa44" stroke-width="0.85"/>
<rect x="178.53" y="258.10" width="4.4" height="4.4" fill="none" stroke="#44aa44" stroke-width="0.85"/>
<rect x="188.85" y="258.10" width="4.4" height="4.4" fill="none" stroke="#44aa44" stroke-width="0.85"/>
<rect x="199.18" y="258.10" width="4.4" height="4.4" fill="none" stroke="#44aa44" stroke-width="0.85"/>
<rect x="209.50" y="258.10" width="4.4" height="4.4" fill="none" stroke="#44aa44" stroke-width="0.85"/>
<rect x="219.83" y="258.10" width="4.4" height="4.4" fill="none" stroke="#44aa44" stroke-width="0.85"/>
<rect x="230.15" y="258.10" width="4.4" height="4.4" fill="none" stroke="#44aa44" stroke-width="0.85"/>
<rect x="240.48" y="258.10" width="4.4" height="4.4" fill="none" stroke="#44aa44" stroke-width="0.85"/>
<rect x="250.80" y="258.10" width="4.4" height="4.4" fill="none" stroke="#44aa44" stroke-width="0.85"/>
<rect x="54.62" y="299.30" width="4.4" height="4.4" fill="none" stroke="#5a5a5a" stroke-width="0.85"/>
<rect x="64.95" y="266.60" width="4.4" height="4.4" fill="none" stroke="#5a5a5a" stroke-width="0.85"/>
<rect x="75.27" y="263.40" width="4.4" height="4.4" fill="none" stroke="#5a5a5a" stroke-width="0.85"/>
<rect x="85.60" y="262.60" width="4.4" height="4.4" fill="none" stroke="#5a5a5a" stroke-width="0.85"/>
<rect x="95.92" y="262.20" width="4.4" height="4.4" fill="none" stroke="#5a5a5a" stroke-width="0.85"/>
<rect x="106.25" y="261.30" width="4.4" height="4.4" fill="none" stroke="#5a5a5a" stroke-width="0.85"/>
<rect x="116.58" y="260.80" width="4.4" height="4.4" fill="none" stroke="#5a5a5a" stroke-width="0.85"/>
<rect x="126.90" y="260.30" width="4.4" height="4.4" fill="none" stroke="#5a5a5a" stroke-width="0.85"/>
<rect x="137.23" y="259.60" width="4.4" height="4.4" fill="none" stroke="#5a5a5a" stroke-width="0.85"/>
<rect x="147.55" y="259.00" width="4.4" height="4.4" fill="none" stroke="#5a5a5a" stroke-width="0.85"/>
<rect x="157.88" y="258.50" width="4.4" height="4.4" fill="none" stroke="#5a5a5a" stroke-width="0.85"/>
<rect x="168.20" y="258.00" width="4.4" height="4.4" fill="none" stroke="#5a5a5a" stroke-width="0.85"/>
<rect x="178.53" y="257.70" width="4.4" height="4.4" fill="none" stroke="#5a5a5a" stroke-width="0.85"/>
<rect x="188.85" y="257.40" width="4.4" height="4.4" fill="none" stroke="#5a5a5a" stroke-width="0.85"/>
<rect x="199.18" y="257.20" width="4.4" height="4.4" fill="none" stroke="#5a5a5a" stroke-width="0.85"/>
<rect x="209.50" y="257.10" width="4.4" height="4.4" fill="none" stroke="#5a5a5a" stroke-width="0.85"/>
<rect x="219.83" y="257.00" width="4.4" height="4.4" fill="none" stroke="#5a5a5a" stroke-width="0.85"/>
<rect x="230.15" y="257.00" width="4.4" height="4.4" fill="none" stroke="#5a5a5a" stroke-width="0.85"/>
<rect x="240.48" y="256.90" width="4.4" height="4.4" fill="none" stroke="#5a5a5a" stroke-width="0.85"/>
<rect x="250.80" y="256.90" width="4.4" height="4.4" fill="none" stroke="#5a5a5a" stroke-width="0.85"/>
<circle cx="56.83" cy="282.70" r="2.45" fill="#000"/>
<circle cx="56.83" cy="303.50" r="2.45" fill="#0a8a0a"/>
<circle cx="67.15" cy="289.40" r="2.45" fill="#000"/>
<circle cx="67.15" cy="309.50" r="2.45" fill="#0a8a0a"/>
<circle cx="77.47" cy="290.40" r="2.45" fill="#000"/>
<circle cx="77.47" cy="310.70" r="2.45" fill="#0a8a0a"/>
<circle cx="87.80" cy="291.80" r="2.45" fill="#000"/>
<circle cx="87.80" cy="310.70" r="2.45" fill="#0a8a0a"/>
<circle cx="98.12" cy="292.80" r="2.45" fill="#000"/>
<circle cx="98.12" cy="312.10" r="2.45" fill="#0a8a0a"/>
<circle cx="108.45" cy="293.80" r="2.45" fill="#000"/>
<circle cx="108.45" cy="313.50" r="2.45" fill="#0a8a0a"/>
<circle cx="118.78" cy="295.00" r="2.45" fill="#000"/>
<circle cx="118.78" cy="315.00" r="2.45" fill="#0a8a0a"/>
<circle cx="129.10" cy="296.00" r="2.45" fill="#000"/>
<circle cx="129.10" cy="316.40" r="2.45" fill="#0a8a0a"/>
<circle cx="139.43" cy="296.40" r="2.45" fill="#000"/>
<circle cx="139.43" cy="317.60" r="2.45" fill="#0a8a0a"/>
<circle cx="149.75" cy="296.60" r="2.45" fill="#000"/>
<circle cx="149.75" cy="318.70" r="2.45" fill="#0a8a0a"/>
<circle cx="160.07" cy="296.60" r="2.45" fill="#000"/>
<circle cx="160.07" cy="320.70" r="2.45" fill="#0a8a0a"/>
<circle cx="170.40" cy="296.20" r="2.45" fill="#000"/>
<circle cx="170.40" cy="322.00" r="2.45" fill="#0a8a0a"/>
<circle cx="180.72" cy="295.60" r="2.45" fill="#000"/>
<circle cx="180.72" cy="323.40" r="2.45" fill="#0a8a0a"/>
<circle cx="191.05" cy="295.00" r="2.45" fill="#000"/>
<circle cx="191.05" cy="324.70" r="2.45" fill="#0a8a0a"/>
<circle cx="201.38" cy="294.10" r="2.45" fill="#000"/>
<circle cx="201.38" cy="325.90" r="2.45" fill="#0a8a0a"/>
<circle cx="211.70" cy="292.90" r="2.45" fill="#000"/>
<circle cx="211.70" cy="327.10" r="2.45" fill="#0a8a0a"/>
<circle cx="222.03" cy="291.60" r="2.45" fill="#000"/>
<circle cx="222.03" cy="328.40" r="2.45" fill="#0a8a0a"/>
<circle cx="232.35" cy="290.80" r="2.45" fill="#000"/>
<circle cx="232.35" cy="329.50" r="2.45" fill="#0a8a0a"/>
<circle cx="242.68" cy="289.60" r="2.45" fill="#000"/>
<circle cx="242.68" cy="330.50" r="2.45" fill="#0a8a0a"/>
<circle cx="253.00" cy="288.80" r="2.45" fill="#000"/>
<circle cx="253.00" cy="331.50" r="2.45" fill="#0a8a0a"/>
</g>
<path d="M81.3,316.6 V324.6 H60" fill="none" stroke="#000" stroke-width="1.3"/>
<path d="M55,324.6 L62,321.8 L62,327.4 Z" fill="#000"/>
<path d="M227.6,267.7 V275 H242" fill="none" stroke="#000" stroke-width="1.3"/>
<path d="M248,275 L241,272.2 L241,277.8 Z" fill="#000"/>
<circle cx="56.2" cy="363.9" r="2.4" fill="#0a8a0a"/>
<text x="63.9" y="366.6" font-size="10" font-weight="bold" text-anchor="start" fill="#0a8a0a" stroke="#0a8a0a" stroke-width="0.18" textLength="75.2" lengthAdjust="spacingAndGlyphs" >Zn<tspan font-size="6.20" dy="2.00">0.9</tspan><tspan dy="-2.00">Co</tspan><tspan font-size="6.20" dy="2.00">0.1</tspan><tspan dy="-2.00">O</tspan>-1000</text>
<circle cx="56.8" cy="378.2" r="2.4" fill="#000"/>
<text x="63.9" y="380" font-size="10" font-weight="bold" text-anchor="start" fill="#000" stroke="#000" stroke-width="0.18" textLength="64.5" lengthAdjust="spacingAndGlyphs" >Zn<tspan font-size="6.20" dy="2.00">0.9</tspan><tspan dy="-2.00">Co</tspan><tspan font-size="6.20" dy="2.00">0.1</tspan><tspan dy="-2.00">O</tspan><tspan font-size="6.40" dy="-3.00" letter-spacing="0.3">nano</tspan></text>
<rect x="324" y="248" width="207" height="145" fill="none" stroke="#8a8a8a" stroke-width="1.8"/>
<line x1="324.00" y1="393" x2="324.00" y2="396" stroke="#555" stroke-width="1"/>
<line x1="342.70" y1="393" x2="342.70" y2="395" stroke="#555" stroke-width="1"/>
<line x1="361.40" y1="393" x2="361.40" y2="396" stroke="#555" stroke-width="1"/>
<line x1="380.10" y1="393" x2="380.10" y2="395" stroke="#555" stroke-width="1"/>
<line x1="398.80" y1="393" x2="398.80" y2="396" stroke="#555" stroke-width="1"/>
<line x1="417.50" y1="393" x2="417.50" y2="395" stroke="#555" stroke-width="1"/>
<line x1="436.20" y1="393" x2="436.20" y2="396" stroke="#555" stroke-width="1"/>
<line x1="454.90" y1="393" x2="454.90" y2="395" stroke="#555" stroke-width="1"/>
<line x1="473.60" y1="393" x2="473.60" y2="396" stroke="#555" stroke-width="1"/>
<line x1="492.30" y1="393" x2="492.30" y2="395" stroke="#555" stroke-width="1"/>
<line x1="511.00" y1="393" x2="511.00" y2="396" stroke="#555" stroke-width="1"/>
<line x1="529.70" y1="393" x2="529.70" y2="395" stroke="#555" stroke-width="1"/>
<text x="324.00" y="402.4" font-size="6.4" font-weight="bold" text-anchor="middle" fill="#000" stroke="#000" stroke-width="0.18" >0</text>
<text x="361.40" y="402.4" font-size="6.4" font-weight="bold" text-anchor="middle" fill="#000" stroke="#000" stroke-width="0.18" >200</text>
<text x="398.80" y="402.4" font-size="6.4" font-weight="bold" text-anchor="middle" fill="#000" stroke="#000" stroke-width="0.18" >400</text>
<text x="436.20" y="402.4" font-size="6.4" font-weight="bold" text-anchor="middle" fill="#000" stroke="#000" stroke-width="0.18" >600</text>
<text x="473.60" y="402.4" font-size="6.4" font-weight="bold" text-anchor="middle" fill="#000" stroke="#000" stroke-width="0.18" >800</text>
<text x="511.00" y="402.4" font-size="6.4" font-weight="bold" text-anchor="middle" fill="#000" stroke="#000" stroke-width="0.18" >1000</text>
<line x1="321" y1="392.60" x2="324" y2="392.60" stroke="#555" stroke-width="1"/>
<line x1="322" y1="380.55" x2="324" y2="380.55" stroke="#555" stroke-width="1"/>
<line x1="321" y1="368.50" x2="324" y2="368.50" stroke="#555" stroke-width="1"/>
<line x1="322" y1="356.45" x2="324" y2="356.45" stroke="#555" stroke-width="1"/>
<line x1="321" y1="344.40" x2="324" y2="344.40" stroke="#555" stroke-width="1"/>
<line x1="322" y1="332.35" x2="324" y2="332.35" stroke="#555" stroke-width="1"/>
<line x1="321" y1="320.30" x2="324" y2="320.30" stroke="#555" stroke-width="1"/>
<line x1="322" y1="308.25" x2="324" y2="308.25" stroke="#555" stroke-width="1"/>
<line x1="321" y1="296.20" x2="324" y2="296.20" stroke="#555" stroke-width="1"/>
<line x1="322" y1="284.15" x2="324" y2="284.15" stroke="#555" stroke-width="1"/>
<line x1="321" y1="272.10" x2="324" y2="272.10" stroke="#555" stroke-width="1"/>
<line x1="322" y1="260.05" x2="324" y2="260.05" stroke="#555" stroke-width="1"/>
<line x1="321" y1="248.00" x2="324" y2="248.00" stroke="#555" stroke-width="1"/>
<text x="319.50" y="395.20" font-size="7.2" font-weight="bold" text-anchor="end" fill="#000" stroke="#000" stroke-width="0.18" >0.0</text>
<text x="319.50" y="371.10" font-size="7.2" font-weight="bold" text-anchor="end" fill="#000" stroke="#000" stroke-width="0.18" >0.5</text>
<text x="319.50" y="347.00" font-size="7.2" font-weight="bold" text-anchor="end" fill="#000" stroke="#000" stroke-width="0.18" >1.0</text>
<text x="319.50" y="322.90" font-size="7.2" font-weight="bold" text-anchor="end" fill="#000" stroke="#000" stroke-width="0.18" >1.5</text>
<text x="319.50" y="298.80" font-size="7.2" font-weight="bold" text-anchor="end" fill="#000" stroke="#000" stroke-width="0.18" >2.0</text>
<text x="319.50" y="274.70" font-size="7.2" font-weight="bold" text-anchor="end" fill="#000" stroke="#000" stroke-width="0.18" >2.5</text>
<text x="319.50" y="250.60" font-size="7.2" font-weight="bold" text-anchor="end" fill="#000" stroke="#000" stroke-width="0.18" >3.0</text>
<text x="373.2" y="416.6" font-size="10" font-weight="bold" text-anchor="start" fill="#000" stroke="#000" stroke-width="0.18" textLength="108.4" lengthAdjust="spacingAndGlyphs" >Specific Capacity / mAh g<tspan font-size="6" dy="-4">-1</tspan></text>
<g transform="translate(301.7,311.5) rotate(-90)">
<text x="0" y="0" font-size="9.2" font-weight="bold" text-anchor="middle" fill="#000" stroke="#000" stroke-width="0.18" textLength="55" lengthAdjust="spacingAndGlyphs" >E vs. Li<tspan font-size="6.5" dy="-3.8">+</tspan><tspan dy="3.8">/Li / V</tspan></text>
</g>
<text x="283.2" y="241.8" font-size="23.3" font-weight="normal" text-anchor="start" fill="#000" >(d)</text>
<path d="M324.3 248.0 324.3 253.9 324.3 259.9 324.4 265.8 324.5 271.8 324.7 277.7 325.0 283.6 325.2 289.6 325.5 295.5 325.8 301.5 326.0 307.4 326.2 313.3 326.6 319.3 327.3 325.2 328.5 331.0 331.1 336.3 335.6 340.1 341.0 342.4 346.7 344.1 352.5 345.6 358.2 347.1 364.0 348.5 369.8 349.8 375.6 351.1 381.4 352.4 387.2 353.5 393.1 354.7 398.8 356.1 404.5 357.9 410.1 359.8 415.6 362.0 421.1 364.3 426.6 366.6 432.1 368.9 437.6 371.2 443.0 373.6 448.4 376.0 453.8 378.6 459.1 381.3 464.4 383.9 470.0 386.0 475.7 387.4 481.6 388.6 487.4 389.5 493.3 390.4 499.2 391.3 505.1 392.1 511.0 392.5" fill="none" stroke="#333" stroke-width="0.45" stroke-opacity="0.75"/>
<path d="M324.3 248.0 324.3 253.9 324.3 259.9 324.4 265.8 324.5 271.8 324.7 277.7 325.0 283.6 325.2 289.6 325.5 295.5 325.8 301.5 326.0 307.4 326.2 313.3 326.6 319.3 327.3 325.2 328.5 331.0 331.0 336.3 335.6 340.1 341.0 342.5 346.7 344.2 352.4 345.7 358.2 347.1 364.0 348.6 369.8 349.9 375.6 351.2 381.4 352.5 387.2 353.7 393.0 354.9 398.7 356.4 404.4 358.1 410.0 360.1 415.5 362.3 421.0 364.6 426.5 366.9 432.0 369.1 437.5 371.5 442.9 373.8 448.3 376.3 453.7 378.7 459.0 381.4 464.4 384.0 470.0 386.0 475.7 387.4 481.6 388.6 487.4 389.5 493.3 390.4 499.2 391.3 505.1 392.1 511.0 392.5" fill="none" stroke="#333" stroke-width="0.45" stroke-opacity="0.75"/>
<path d="M324.3 248.0 324.3 253.9 324.3 259.9 324.4 265.8 324.5 271.8 324.7 277.7 325.0 283.6 325.2 289.6 325.5 295.5 325.8 301.5 326.0 307.4 326.2 313.3 326.6 319.3 327.3 325.2 328.5 331.0 331.0 336.3 335.5 340.1 341.0 342.5 346.7 344.2 352.4 345.7 358.2 347.2 363.9 348.6 369.7 350.0 375.5 351.3 381.3 352.6 387.1 353.8 392.9 355.1 398.7 356.6 404.3 358.4 409.9 360.4 415.4 362.6 420.9 364.9 426.4 367.2 431.9 369.4 437.4 371.8 442.8 374.1 448.3 376.5 453.7 378.9 459.0 381.5 464.4 384.0 470.0 386.0 475.7 387.4 481.6 388.6 487.4 389.5 493.3 390.4 499.2 391.3 505.1 392.1 511.0 392.5" fill="none" stroke="#333" stroke-width="0.45" stroke-opacity="0.75"/>
<path d="M324.3 248.0 324.3 253.9 324.3 259.9 324.4 265.8 324.5 271.8 324.7 277.7 325.0 283.6 325.2 289.6 325.5 295.5 325.8 301.5 326.0 307.4 326.2 313.3 326.6 319.3 327.3 325.2 328.5 331.0 331.0 336.3 335.5 340.1 340.9 342.5 346.6 344.2 352.4 345.7 358.1 347.2 363.9 348.7 369.7 350.1 375.5 351.4 381.2 352.8 387.1 354.0 392.8 355.3 398.6 356.9 404.2 358.7 409.8 360.7 415.3 362.9 420.8 365.2 426.3 367.4 431.8 369.7 437.3 372.1 442.7 374.4 448.2 376.7 453.6 379.1 459.0 381.6 464.4 384.1 470.0 386.0 475.7 387.4 481.6 388.6 487.4 389.5 493.3 390.4 499.2 391.3 505.1 392.1 511.0 392.5" fill="none" stroke="#333" stroke-width="0.45" stroke-opacity="0.75"/>
<path d="M324.3 248.0 324.3 253.9 324.3 259.9 324.4 265.8 324.5 271.8 324.7 277.7 325.0 283.6 325.2 289.6 325.5 295.5 325.8 301.5 326.0 307.4 326.2 313.3 326.6 319.3 327.3 325.2 328.5 331.0 331.0 336.3 335.5 340.1 340.9 342.5 346.6 344.3 352.4 345.8 358.1 347.3 363.9 348.8 369.6 350.2 375.4 351.5 381.2 352.9 387.0 354.2 392.8 355.5 398.5 357.1 404.1 359.0 409.7 361.0 415.2 363.2 420.7 365.5 426.2 367.7 431.7 370.0 437.2 372.4 442.6 374.7 448.1 377.0 453.5 379.3 458.9 381.8 464.3 384.1 470.0 386.0 475.7 387.4 481.6 388.6 487.4 389.5 493.3 390.4 499.2 391.3 505.1 392.1 511.0 392.5" fill="none" stroke="#333" stroke-width="0.45" stroke-opacity="0.75"/>
<path d="M324.3 248.0 324.3 253.9 324.3 259.9 324.4 265.8 324.5 271.8 324.7 277.7 325.0 283.6 325.2 289.6 325.5 295.5 325.8 301.5 326.0 307.4 326.2 313.3 326.6 319.3 327.3 325.2 328.5 331.0 331.0 336.3 335.5 340.1 340.9 342.6 346.6 344.3 352.3 345.8 358.1 347.3 363.8 348.8 369.6 350.3 375.4 351.6 381.1 353.0 386.9 354.3 392.7 355.7 398.4 357.4 404.0 359.2 409.6 361.3 415.1 363.5 420.6 365.7 426.1 368.0 431.6 370.3 437.0 372.7 442.5 375.0 448.0 377.2 453.5 379.5 458.9 381.9 464.3 384.2 470.0 386.1 475.7 387.4 481.6 388.6 487.4 389.5 493.3 390.4 499.2 391.3 505.1 392.1 511.0 392.5" fill="none" stroke="#333" stroke-width="0.45" stroke-opacity="0.75"/>
<path d="M324.3 248.0 324.3 253.9 324.3 259.9 324.4 265.8 324.5 271.8 324.7 277.7 325.0 283.6 325.2 289.6 325.5 295.5 325.8 301.5 326.0 307.4 326.3 313.3 326.6 319.3 327.3 325.2 328.5 331.0 331.0 336.4 335.5 340.2 340.9 342.6 346.6 344.3 352.3 345.8 358.0 347.4 363.8 348.9 369.5 350.4 375.3 351.8 381.1 353.1 386.9 354.5 392.6 355.9 398.3 357.6 403.9 359.5 409.5 361.6 415.0 363.8 420.5 366.0 426.0 368.3 431.5 370.6 436.9 373.0 442.4 375.2 447.9 377.5 453.4 379.7 458.8 382.0 464.3 384.2 470.0 386.1 475.7 387.4 481.6 388.6 487.4 389.5 493.3 390.4 499.2 391.3 505.1 392.1 511.0 392.5" fill="none" stroke="#333" stroke-width="0.45" stroke-opacity="0.75"/>
<path d="M324.3 248.0 324.3 253.9 324.3 259.9 324.4 265.8 324.5 271.8 324.7 277.7 325.0 283.6 325.2 289.6 325.5 295.5 325.8 301.5 326.0 307.4 326.3 313.3 326.6 319.3 327.3 325.2 328.5 331.0 330.9 336.4 335.4 340.2 340.8 342.6 346.5 344.4 352.3 345.9 358.0 347.4 363.7 349.0 369.5 350.4 375.3 351.9 381.0 353.3 386.8 354.7 392.5 356.2 398.2 357.9 403.8 359.8 409.4 361.9 414.9 364.1 420.4 366.3 425.9 368.6 431.4 370.9 436.8 373.3 442.3 375.5 447.8 377.7 453.3 379.9 458.8 382.1 464.3 384.3 470.0 386.1 475.7 387.4 481.6 388.6 487.4 389.5 493.3 390.4 499.2 391.3 505.1 392.1 511.0 392.5" fill="none" stroke="#333" stroke-width="0.45" stroke-opacity="0.75"/>
<path d="M324.3 248.0 324.3 253.9 324.3 259.9 324.4 265.8 324.5 271.8 324.7 277.7 325.0 283.6 325.2 289.6 325.5 295.5 325.8 301.5 326.0 307.4 326.3 313.3 326.6 319.3 327.3 325.2 328.5 331.0 330.9 336.4 335.4 340.2 340.8 342.6 346.5 344.4 352.2 345.9 358.0 347.4 363.7 349.0 369.4 350.5 375.2 352.0 381.0 353.4 386.7 354.8 392.5 356.4 398.1 358.1 403.7 360.1 409.3 362.2 414.8 364.4 420.3 366.6 425.8 368.9 431.3 371.2 436.7 373.6 442.2 375.8 447.7 377.9 453.3 380.1 458.8 382.3 464.3 384.3 470.0 386.1 475.7 387.4 481.6 388.6 487.4 389.5 493.3 390.4 499.2 391.3 505.1 392.1 511.0 392.5" fill="none" stroke="#333" stroke-width="0.45" stroke-opacity="0.75"/>
<path d="M324.3 248.0 324.3 253.9 324.3 259.9 324.4 265.8 324.5 271.8 324.7 277.7 325.0 283.6 325.2 289.6 325.5 295.5 325.8 301.4 326.0 307.4 326.3 313.3 326.6 319.3 327.3 325.2 328.5 331.0 330.9 336.4 335.4 340.2 340.8 342.7 346.5 344.4 352.2 345.9 358.0 347.5 363.7 349.1 369.4 350.6 375.2 352.1 380.9 353.5 386.7 355.0 392.4 356.6 398.0 358.4 403.6 360.3 409.2 362.4 414.7 364.7 420.2 366.9 425.7 369.2 431.2 371.4 436.6 373.9 442.1 376.1 447.7 378.2 453.2 380.3 458.7 382.4 464.3 384.4 469.9 386.1 475.7 387.4 481.6 388.6 487.4 389.5 493.3 390.4 499.2 391.3 505.1 392.1 511.0 392.5" fill="none" stroke="#333" stroke-width="0.45" stroke-opacity="0.75"/>
<path d="M324.3 248.0 324.3 253.9 324.3 259.9 324.4 265.8 324.5 271.8 324.7 277.7 325.0 283.6 325.2 289.6 325.5 295.5 325.8 301.4 326.0 307.4 326.3 313.3 326.6 319.3 327.3 325.2 328.5 331.0 330.9 336.4 335.4 340.2 340.8 342.7 346.4 344.4 352.2 346.0 357.9 347.5 363.6 349.2 369.4 350.7 375.1 352.2 380.9 353.7 386.6 355.2 392.3 356.8 397.9 358.6 403.5 360.6 409.1 362.7 414.6 364.9 420.1 367.2 425.6 369.4 431.1 371.7 436.5 374.2 442.0 376.4 447.6 378.4 453.1 380.5 458.7 382.5 464.3 384.4 469.9 386.1 475.7 387.4 481.6 388.6 487.4 389.5 493.3 390.4 499.2 391.3 505.1 392.1 511.0 392.5" fill="none" stroke="#333" stroke-width="0.45" stroke-opacity="0.75"/>
<path d="M324.3 248.0 324.3 253.9 324.3 259.9 324.4 265.8 324.5 271.8 324.7 277.7 325.0 283.6 325.2 289.6 325.5 295.5 325.8 301.4 326.0 307.4 326.3 313.3 326.6 319.3 327.3 325.2 328.5 331.0 330.9 336.4 335.4 340.2 340.7 342.7 346.4 344.5 352.2 346.0 357.9 347.6 363.6 349.2 369.3 350.8 375.1 352.3 380.8 353.8 386.5 355.3 392.2 357.0 397.9 358.9 403.4 360.9 409.0 363.0 414.5 365.2 420.0 367.5 425.5 369.7 431.0 372.0 436.4 374.5 441.9 376.7 447.5 378.7 453.1 380.6 458.6 382.6 464.2 384.5 469.9 386.1 475.7 387.4 481.6 388.6 487.4 389.5 493.3 390.4 499.2 391.3 505.1 392.1 511.0 392.5" fill="none" stroke="#333" stroke-width="0.45" stroke-opacity="0.75"/>
<path d="M324.3 248.0 324.3 253.9 324.3 259.9 324.4 265.8 324.5 271.8 324.7 277.7 325.0 283.6 325.2 289.6 325.5 295.5 325.8 301.4 326.0 307.4 326.3 313.3 326.6 319.3 327.3 325.2 328.5 331.0 330.9 336.4 335.3 340.2 340.7 342.7 346.4 344.5 352.1 346.0 357.9 347.6 363.6 349.3 369.3 350.9 375.0 352.4 380.8 353.9 386.5 355.5 392.1 357.2 397.8 359.1 403.3 361.2 408.9 363.3 414.4 365.5 419.9 367.8 425.4 370.0 430.9 372.3 436.3 374.8 441.8 376.9 447.4 378.9 453.0 380.8 458.6 382.7 464.2 384.5 469.9 386.1 475.7 387.4 481.6 388.6 487.4 389.5 493.3 390.4 499.2 391.3 505.1 392.1 511.0 392.5" fill="none" stroke="#333" stroke-width="0.45" stroke-opacity="0.75"/>
<path d="M324.3 248.0 324.3 253.9 324.3 259.9 324.4 265.8 324.5 271.8 324.7 277.7 325.0 283.6 325.2 289.6 325.5 295.5 325.8 301.4 326.0 307.4 326.3 313.3 326.6 319.3 327.3 325.2 328.6 331.0 330.8 336.4 335.3 340.2 340.7 342.8 346.4 344.5 352.1 346.1 357.8 347.7 363.5 349.4 369.2 351.0 375.0 352.5 380.7 354.0 386.4 355.7 392.1 357.4 397.7 359.4 403.2 361.5 408.8 363.6 414.3 365.8 419.8 368.0 425.3 370.3 430.8 372.6 436.2 375.1 441.7 377.2 447.3 379.2 452.9 381.0 458.6 382.9 464.2 384.6 469.9 386.1 475.7 387.4 481.6 388.6 487.4 389.5 493.3 390.4 499.2 391.3 505.1 392.1 511.0 392.5" fill="none" stroke="#333" stroke-width="0.45" stroke-opacity="0.75"/>
<path d="M324.3 248.0 324.3 253.9 324.3 259.9 324.4 265.8 324.5 271.8 324.7 277.7 324.9 283.6 325.2 289.6 325.5 295.5 325.8 301.4 326.0 307.4 326.3 313.3 326.6 319.3 327.3 325.2 328.6 331.0 330.8 336.4 335.3 340.2 340.7 342.8 346.3 344.6 352.1 346.1 357.8 347.7 363.5 349.4 369.2 351.1 374.9 352.6 380.7 354.2 386.3 355.8 392.0 357.7 397.6 359.6 403.1 361.7 408.7 363.9 414.2 366.1 419.7 368.3 425.2 370.6 430.7 372.9 436.1 375.4 441.6 377.5 447.2 379.4 452.9 381.2 458.5 383.0 464.2 384.7 469.9 386.1 475.7 387.4 481.6 388.6 487.4 389.5 493.3 390.4 499.2 391.3 505.1 392.1 511.0 392.5" fill="none" stroke="#333" stroke-width="0.45" stroke-opacity="0.75"/>
<path d="M324.3 248.0 324.3 253.9 324.3 259.9 324.4 265.8 324.5 271.8 324.7 277.7 324.9 283.6 325.2 289.6 325.5 295.5 325.8 301.4 326.0 307.4 326.3 313.3 326.6 319.3 327.3 325.2 328.6 331.0 330.8 336.4 335.3 340.2 340.6 342.8 346.3 344.6 352.0 346.1 357.8 347.7 363.4 349.5 369.1 351.1 374.9 352.7 380.6 354.3 386.3 356.0 391.9 357.9 397.5 359.9 403.0 362.0 408.6 364.2 414.1 366.4 419.6 368.6 425.1 370.9 430.6 373.2 436.0 375.7 441.5 377.8 447.1 379.6 452.8 381.4 458.5 383.1 464.2 384.7 469.9 386.2 475.7 387.4 481.6 388.6 487.4 389.5 493.3 390.4 499.2 391.3 505.1 392.1 511.0 392.5" fill="none" stroke="#333" stroke-width="0.45" stroke-opacity="0.75"/>
<path d="M324.3 248.0 324.3 253.9 324.3 259.9 324.4 265.8 324.5 271.8 324.7 277.7 324.9 283.6 325.2 289.6 325.5 295.5 325.8 301.4 326.0 307.4 326.3 313.3 326.6 319.2 327.3 325.2 328.6 331.0 330.8 336.4 335.3 340.3 340.6 342.8 346.3 344.6 352.0 346.2 357.7 347.8 363.4 349.6 369.1 351.2 374.8 352.8 380.5 354.4 386.2 356.2 391.8 358.1 397.4 360.1 402.9 362.3 408.5 364.5 414.0 366.7 419.5 368.9 425.0 371.1 430.5 373.5 435.9 376.0 441.4 378.1 447.1 379.9 452.7 381.6 458.4 383.2 464.2 384.8 469.9 386.2 475.7 387.4 481.6 388.6 487.4 389.5 493.3 390.4 499.2 391.3 505.1 392.1 511.0 392.5" fill="none" stroke="#333" stroke-width="0.45" stroke-opacity="0.75"/>
<path d="M324.3 248.0 324.3 253.9 324.3 259.9 324.4 265.8 324.5 271.8 324.7 277.7 324.9 283.6 325.2 289.6 325.5 295.5 325.8 301.4 326.0 307.4 326.3 313.3 326.6 319.2 327.3 325.2 328.6 331.0 330.8 336.4 335.3 340.3 340.6 342.9 346.2 344.7 352.0 346.2 357.7 347.8 363.4 349.6 369.1 351.3 374.8 352.9 380.5 354.5 386.1 356.4 391.8 358.3 397.3 360.4 402.8 362.6 408.4 364.8 413.9 367.0 419.4 369.2 424.9 371.4 430.4 373.7 435.7 376.3 441.3 378.4 447.0 380.1 452.7 381.8 458.4 383.3 464.2 384.8 469.9 386.2 475.7 387.4 481.6 388.6 487.4 389.5 493.3 390.4 499.2 391.3 505.1 392.1 511.0 392.5" fill="none" stroke="#333" stroke-width="0.45" stroke-opacity="0.75"/>
<path d="M324.3 248.0 324.3 253.9 324.3 259.9 324.4 265.8 324.5 271.8 324.7 277.7 324.9 283.6 325.2 289.6 325.5 295.5 325.8 301.4 326.0 307.4 326.3 313.3 326.7 319.2 327.3 325.2 328.6 331.0 330.8 336.4 335.2 340.3 340.6 342.9 346.2 344.7 352.0 346.2 357.7 347.9 363.3 349.7 369.0 351.4 374.7 353.0 380.4 354.7 386.1 356.5 391.7 358.5 397.2 360.6 402.8 362.8 408.3 365.1 413.8 367.3 419.3 369.5 424.8 371.7 430.3 374.0 435.6 376.6 441.2 378.6 446.9 380.4 452.6 382.0 458.4 383.5 464.1 384.9 469.9 386.2 475.7 387.4 481.6 388.6 487.4 389.5 493.3 390.4 499.2 391.3 505.1 392.1 511.0 392.5" fill="none" stroke="#333" stroke-width="0.45" stroke-opacity="0.75"/>
<path d="M324.0 392.5 327.4 389.1 330.9 385.7 334.7 382.7 338.9 380.2 343.2 378.0 347.4 375.6 351.4 372.8 355.0 369.6 358.3 366.1 361.5 362.4 364.6 358.7 367.8 355.0 370.8 351.2 373.9 347.5 377.0 343.8 380.2 340.1 383.7 336.8 387.8 334.1 392.2 332.3 396.9 330.9 401.6 329.6 406.2 328.3 410.8 326.7 415.4 325.0 419.8 323.1 424.2 321.0 428.5 318.7 432.8 316.6 437.2 314.6 441.5 312.4 445.7 309.8 449.6 307.0 453.5 304.1 457.2 301.0 460.8 297.7 464.3 294.3 467.5 290.7 470.6 287.0 473.4 283.0 475.9 278.9 478.3 274.6 480.5 270.3 482.6 266.0 484.7 261.6 486.7 257.2 488.5 252.7 490.4 248.2" fill="none" stroke="#333" stroke-width="0.45" stroke-opacity="0.75"/>
<path d="M324.0 392.5 327.4 389.1 330.9 385.7 334.7 382.7 338.9 380.2 343.2 378.0 347.5 375.6 351.5 372.8 355.1 369.6 358.4 366.1 361.6 362.4 364.8 358.7 367.9 355.0 370.9 351.2 374.0 347.5 377.1 343.7 380.4 340.1 383.9 336.8 388.0 334.1 392.5 332.3 397.1 330.9 401.8 329.6 406.5 328.3 411.1 326.7 415.6 325.0 420.1 323.1 424.5 321.0 428.7 318.7 433.1 316.6 437.5 314.5 441.8 312.3 445.9 309.7 449.9 306.9 453.8 304.0 457.5 300.9 461.1 297.6 464.6 294.2 467.9 290.6 470.9 286.9 473.7 282.9 476.3 278.8 478.7 274.5 480.9 270.2 483.1 265.9 485.3 261.5 487.3 257.1 489.2 252.7 491.1 248.2" fill="none" stroke="#333" stroke-width="0.45" stroke-opacity="0.75"/>
<path d="M324.0 392.5 327.5 389.1 331.0 385.7 334.8 382.7 339.0 380.2 343.3 378.0 347.6 375.6 351.6 372.9 355.2 369.6 358.5 366.1 361.7 362.4 364.9 358.7 368.0 355.0 371.1 351.2 374.2 347.4 377.3 343.7 380.5 340.1 384.1 336.7 388.2 334.1 392.7 332.3 397.3 330.9 402.0 329.6 406.7 328.3 411.3 326.7 415.9 325.0 420.3 323.1 424.7 321.0 429.0 318.7 433.4 316.6 437.8 314.5 442.1 312.2 446.2 309.6 450.2 306.8 454.0 303.9 457.8 300.8 461.4 297.5 464.9 294.1 468.2 290.5 471.3 286.7 474.1 282.8 476.7 278.7 479.1 274.4 481.4 270.2 483.7 265.9 485.8 261.5 487.9 257.1 489.8 252.7 491.8 248.2" fill="none" stroke="#333" stroke-width="0.45" stroke-opacity="0.75"/>
<path d="M324.0 392.5 327.5 389.1 331.0 385.7 334.8 382.7 339.0 380.3 343.4 378.0 347.6 375.7 351.6 372.9 355.3 369.6 358.6 366.1 361.8 362.4 365.0 358.7 368.1 355.0 371.2 351.2 374.3 347.4 377.4 343.7 380.7 340.0 384.2 336.7 388.4 334.1 392.9 332.3 397.5 330.9 402.3 329.7 406.9 328.3 411.5 326.7 416.1 325.0 420.6 323.1 425.0 321.0 429.3 318.7 433.7 316.6 438.1 314.4 442.4 312.1 446.5 309.5 450.5 306.7 454.3 303.7 458.1 300.6 461.7 297.4 465.2 294.0 468.5 290.4 471.6 286.6 474.4 282.6 477.1 278.5 479.5 274.4 481.9 270.1 484.2 265.8 486.4 261.5 488.5 257.1 490.5 252.6 492.5 248.2" fill="none" stroke="#333" stroke-width="0.45" stroke-opacity="0.75"/>
<path d="M324.0 392.5 327.5 389.1 331.0 385.7 334.9 382.7 339.1 380.3 343.5 378.1 347.7 375.7 351.7 372.9 355.4 369.7 358.8 366.1 361.9 362.4 365.1 358.7 368.2 355.0 371.3 351.2 374.4 347.4 377.6 343.6 380.8 340.0 384.4 336.7 388.6 334.1 393.1 332.3 397.8 330.9 402.5 329.7 407.2 328.3 411.8 326.7 416.4 325.0 420.9 323.1 425.3 321.0 429.6 318.8 434.0 316.6 438.4 314.4 442.6 312.1 446.8 309.4 450.7 306.6 454.6 303.6 458.4 300.5 462.0 297.3 465.5 293.8 468.8 290.3 471.9 286.5 474.8 282.5 477.4 278.4 480.0 274.3 482.4 270.0 484.7 265.7 486.9 261.4 489.1 257.0 491.1 252.6 493.2 248.2" fill="none" stroke="#333" stroke-width="0.45" stroke-opacity="0.75"/>
<path d="M324.0 392.5 327.5 389.1 331.1 385.7 334.9 382.7 339.2 380.3 343.5 378.1 347.8 375.7 351.8 372.9 355.5 369.7 358.9 366.1 362.0 362.4 365.2 358.7 368.4 354.9 371.5 351.2 374.6 347.4 377.7 343.6 381.0 340.0 384.6 336.7 388.7 334.1 393.3 332.3 398.0 331.0 402.7 329.7 407.4 328.3 412.0 326.7 416.6 325.0 421.1 323.1 425.5 321.0 429.9 318.8 434.3 316.6 438.6 314.4 442.9 312.0 447.0 309.4 451.0 306.5 454.9 303.5 458.7 300.4 462.3 297.2 465.8 293.7 469.1 290.1 472.2 286.3 475.1 282.4 477.8 278.3 480.4 274.2 482.8 269.9 485.2 265.7 487.5 261.4 489.7 257.0 491.8 252.6 493.9 248.2" fill="none" stroke="#333" stroke-width="0.45" stroke-opacity="0.75"/>
<path d="M324.0 392.5 327.5 389.1 331.1 385.7 334.9 382.7 339.2 380.3 343.6 378.1 347.9 375.7 351.9 372.9 355.6 369.7 359.0 366.1 362.2 362.4 365.3 358.7 368.5 354.9 371.6 351.1 374.7 347.3 377.8 343.6 381.1 339.9 384.8 336.7 388.9 334.1 393.5 332.3 398.2 331.0 402.9 329.7 407.6 328.3 412.3 326.7 416.9 325.0 421.4 323.1 425.8 321.0 430.2 318.8 434.6 316.6 438.9 314.3 443.2 311.9 447.3 309.3 451.3 306.4 455.2 303.4 459.0 300.3 462.6 297.0 466.1 293.6 469.4 290.0 472.6 286.2 475.5 282.3 478.2 278.2 480.8 274.1 483.3 269.9 485.7 265.6 488.1 261.3 490.3 257.0 492.4 252.6 494.6 248.2" fill="none" stroke="#333" stroke-width="0.45" stroke-opacity="0.75"/>
<path d="M324.0 392.5 327.6 389.1 331.1 385.7 335.0 382.7 339.3 380.3 343.7 378.1 348.0 375.8 352.0 372.9 355.7 369.7 359.1 366.1 362.3 362.4 365.4 358.7 368.6 354.9 371.7 351.1 374.8 347.3 378.0 343.5 381.3 339.9 384.9 336.6 389.1 334.1 393.7 332.4 398.4 331.0 403.2 329.7 407.9 328.3 412.5 326.7 417.1 325.0 421.7 323.1 426.1 321.0 430.5 318.8 434.9 316.6 439.2 314.3 443.5 311.9 447.6 309.2 451.6 306.3 455.5 303.3 459.3 300.2 462.9 296.9 466.4 293.5 469.8 289.9 472.9 286.1 475.8 282.2 478.6 278.1 481.2 274.0 483.8 269.8 486.2 265.6 488.6 261.3 490.9 257.0 493.1 252.6 495.3 248.2" fill="none" stroke="#333" stroke-width="0.45" stroke-opacity="0.75"/>
<path d="M324.0 392.5 327.6 389.1 331.1 385.7 335.0 382.7 339.3 380.3 343.7 378.2 348.0 375.8 352.1 373.0 355.8 369.7 359.2 366.2 362.4 362.4 365.5 358.7 368.7 354.9 371.9 351.1 375.0 347.3 378.1 343.5 381.4 339.9 385.1 336.6 389.3 334.1 393.9 332.4 398.6 331.0 403.4 329.7 408.1 328.3 412.8 326.7 417.4 325.0 421.9 323.1 426.4 321.0 430.8 318.8 435.2 316.6 439.5 314.3 443.7 311.8 447.9 309.1 451.9 306.2 455.8 303.2 459.6 300.1 463.2 296.8 466.7 293.4 470.1 289.8 473.2 286.0 476.2 282.0 479.0 278.0 481.7 273.9 484.2 269.7 486.8 265.5 489.2 261.3 491.5 256.9 493.7 252.6 496.0 248.2" fill="none" stroke="#333" stroke-width="0.45" stroke-opacity="0.75"/>
<path d="M324.0 392.5 327.6 389.1 331.2 385.7 335.1 382.7 339.4 380.4 343.8 378.2 348.1 375.8 352.2 373.0 355.9 369.7 359.3 366.2 362.5 362.4 365.7 358.7 368.9 354.9 372.0 351.1 375.1 347.3 378.3 343.5 381.6 339.8 385.3 336.6 389.5 334.1 394.1 332.4 398.9 331.0 403.6 329.7 408.3 328.2 413.0 326.7 417.6 325.0 422.2 323.1 426.6 321.0 431.1 318.8 435.5 316.6 439.8 314.2 444.0 311.7 448.1 309.0 452.1 306.1 456.1 303.1 459.9 300.0 463.5 296.7 467.1 293.3 470.4 289.6 473.5 285.8 476.5 281.9 479.4 277.9 482.1 273.8 484.7 269.7 487.3 265.5 489.7 261.2 492.1 256.9 494.4 252.6 496.7 248.2" fill="none" stroke="#333" stroke-width="0.45" stroke-opacity="0.75"/>
<path d="M324.0 392.5 327.6 389.1 331.2 385.7 335.1 382.7 339.4 380.4 343.9 378.2 348.2 375.8 352.3 373.0 356.0 369.8 359.4 366.2 362.6 362.4 365.8 358.6 369.0 354.9 372.1 351.1 375.2 347.2 378.4 343.4 381.7 339.8 385.5 336.6 389.7 334.1 394.3 332.4 399.1 331.0 403.8 329.7 408.6 328.2 413.2 326.7 417.9 324.9 422.4 323.1 426.9 321.0 431.4 318.8 435.8 316.6 440.1 314.2 444.3 311.6 448.4 308.9 452.4 306.0 456.3 303.0 460.2 299.9 463.8 296.6 467.4 293.1 470.7 289.5 473.9 285.7 476.9 281.8 479.7 277.8 482.5 273.7 485.2 269.6 487.8 265.4 490.3 261.2 492.7 256.9 495.0 252.5 497.3 248.2" fill="none" stroke="#333" stroke-width="0.45" stroke-opacity="0.75"/>
<path d="M324.0 392.5 327.6 389.1 331.2 385.7 335.2 382.7 339.5 380.4 344.0 378.2 348.3 375.8 352.3 373.0 356.1 369.8 359.5 366.2 362.7 362.4 365.9 358.6 369.1 354.9 372.3 351.1 375.4 347.2 378.5 343.4 381.9 339.8 385.6 336.6 389.9 334.1 394.6 332.4 399.3 331.0 404.1 329.7 408.8 328.2 413.5 326.7 418.1 324.9 422.7 323.0 427.2 321.0 431.6 318.8 436.1 316.6 440.3 314.1 444.6 311.6 448.7 308.8 452.7 305.9 456.6 302.9 460.5 299.8 464.1 296.5 467.7 293.0 471.0 289.4 474.2 285.6 477.2 281.7 480.1 277.7 482.9 273.6 485.7 269.5 488.3 265.4 490.9 261.1 493.3 256.8 495.7 252.5 498.0 248.2" fill="none" stroke="#333" stroke-width="0.45" stroke-opacity="0.75"/>
<path d="M324.0 392.5 327.6 389.1 331.3 385.7 335.2 382.7 339.6 380.4 344.0 378.3 348.4 375.9 352.4 373.0 356.2 369.8 359.6 366.2 362.8 362.4 366.0 358.6 369.2 354.9 372.4 351.0 375.5 347.2 378.7 343.4 382.0 339.7 385.8 336.5 390.1 334.1 394.8 332.4 399.5 331.1 404.3 329.7 409.0 328.2 413.7 326.7 418.4 324.9 423.0 323.0 427.5 320.9 431.9 318.8 436.3 316.6 440.6 314.1 444.8 311.5 448.9 308.7 453.0 305.8 456.9 302.8 460.7 299.7 464.4 296.4 468.0 292.9 471.3 289.3 474.5 285.5 477.6 281.5 480.5 277.6 483.3 273.5 486.1 269.4 488.8 265.3 491.4 261.1 493.9 256.8 496.3 252.5 498.7 248.2" fill="none" stroke="#333" stroke-width="0.45" stroke-opacity="0.75"/>
<path d="M324.0 392.5 327.7 389.2 331.3 385.8 335.2 382.8 339.6 380.4 344.1 378.3 348.4 375.9 352.5 373.1 356.3 369.8 359.7 366.2 362.9 362.4 366.1 358.6 369.3 354.9 372.5 351.0 375.6 347.2 378.8 343.4 382.2 339.7 386.0 336.5 390.3 334.1 395.0 332.4 399.8 331.1 404.5 329.7 409.3 328.2 414.0 326.7 418.6 324.9 423.2 323.0 427.7 320.9 432.2 318.8 436.6 316.6 440.9 314.1 445.1 311.4 449.2 308.6 453.2 305.7 457.2 302.7 461.0 299.6 464.8 296.3 468.3 292.8 471.7 289.1 474.8 285.3 477.9 281.4 480.9 277.5 483.8 273.4 486.6 269.4 489.3 265.2 492.0 261.1 494.5 256.8 497.0 252.5 499.4 248.2" fill="none" stroke="#333" stroke-width="0.45" stroke-opacity="0.75"/>
<path d="M324.0 392.5 327.7 389.2 331.3 385.8 335.3 382.8 339.7 380.4 344.2 378.3 348.5 375.9 352.6 373.1 356.4 369.8 359.8 366.2 363.0 362.4 366.2 358.6 369.5 354.8 372.6 351.0 375.8 347.1 379.0 343.3 382.3 339.7 386.1 336.5 390.5 334.1 395.2 332.5 400.0 331.1 404.8 329.7 409.5 328.2 414.2 326.6 418.9 324.9 423.5 323.0 428.0 320.9 432.5 318.9 436.9 316.6 441.2 314.0 445.4 311.3 449.5 308.5 453.5 305.6 457.5 302.6 461.3 299.5 465.1 296.2 468.6 292.7 472.0 289.0 475.2 285.2 478.2 281.3 481.3 277.3 484.2 273.3 487.1 269.3 489.9 265.2 492.5 261.0 495.1 256.8 497.6 252.5 500.1 248.2" fill="none" stroke="#333" stroke-width="0.45" stroke-opacity="0.75"/>
<path d="M324.0 392.5 327.7 389.2 331.3 385.8 335.3 382.8 339.7 380.5 344.2 378.3 348.6 375.9 352.7 373.1 356.5 369.8 359.9 366.2 363.1 362.4 366.3 358.6 369.6 354.8 372.8 351.0 375.9 347.1 379.1 343.3 382.5 339.6 386.3 336.5 390.7 334.1 395.4 332.5 400.2 331.1 405.0 329.7 409.7 328.2 414.5 326.6 419.1 324.9 423.7 323.0 428.3 320.9 432.8 318.9 437.2 316.6 441.5 314.0 445.7 311.3 449.8 308.4 453.8 305.5 457.8 302.5 461.6 299.4 465.4 296.0 468.9 292.6 472.3 288.9 475.5 285.1 478.6 281.2 481.6 277.2 484.6 273.3 487.5 269.2 490.4 265.1 493.1 261.0 495.7 256.7 498.3 252.5 500.8 248.2" fill="none" stroke="#333" stroke-width="0.45" stroke-opacity="0.75"/>
<path d="M324.0 392.5 327.7 389.2 331.4 385.8 335.4 382.8 339.8 380.5 344.3 378.4 348.7 376.0 352.8 373.1 356.6 369.8 360.0 366.2 363.2 362.4 366.4 358.6 369.7 354.8 372.9 351.0 376.0 347.1 379.2 343.3 382.6 339.6 386.5 336.5 390.9 334.1 395.6 332.5 400.4 331.1 405.2 329.7 410.0 328.2 414.7 326.6 419.4 324.9 424.0 323.0 428.5 320.9 433.1 318.9 437.5 316.6 441.8 313.9 445.9 311.2 450.0 308.4 454.1 305.4 458.1 302.4 461.9 299.3 465.7 295.9 469.2 292.4 472.6 288.8 475.8 284.9 478.9 281.1 482.0 277.1 485.0 273.2 488.0 269.2 490.9 265.1 493.7 260.9 496.3 256.7 498.9 252.5 501.5 248.2" fill="none" stroke="#333" stroke-width="0.45" stroke-opacity="0.75"/>
<path d="M324.0 392.5 327.7 389.2 331.4 385.8 335.4 382.8 339.8 380.5 344.4 378.4 348.8 376.0 352.9 373.1 356.7 369.9 360.1 366.2 363.3 362.4 366.6 358.6 369.8 354.8 373.0 351.0 376.2 347.1 379.4 343.2 382.8 339.6 386.7 336.4 391.1 334.1 395.8 332.5 400.6 331.1 405.4 329.7 410.2 328.2 414.9 326.6 419.6 324.9 424.3 323.0 428.8 320.9 433.4 318.9 437.8 316.6 442.0 313.9 446.2 311.1 450.3 308.3 454.4 305.3 458.3 302.3 462.2 299.1 466.0 295.8 469.5 292.3 472.9 288.6 476.1 284.8 479.3 280.9 482.4 277.0 485.5 273.1 488.5 269.1 491.4 265.0 494.2 260.9 496.9 256.7 499.6 252.4 502.2 248.2" fill="none" stroke="#333" stroke-width="0.45" stroke-opacity="0.75"/>
<path d="M324.0 392.5 327.8 389.2 331.4 385.8 335.4 382.8 339.9 380.5 344.5 378.4 348.9 376.0 353.0 373.1 356.8 369.9 360.2 366.3 363.4 362.4 366.7 358.6 370.0 354.8 373.2 351.0 376.3 347.0 379.5 343.2 382.9 339.5 386.8 336.4 391.3 334.1 396.0 332.5 400.9 331.1 405.7 329.7 410.4 328.2 415.2 326.6 419.9 324.9 424.5 323.0 429.1 320.9 433.7 318.9 438.1 316.6 442.3 313.9 446.5 311.1 450.6 308.2 454.6 305.2 458.6 302.2 462.5 299.0 466.3 295.7 469.9 292.2 473.2 288.5 476.5 284.7 479.6 280.8 482.8 276.9 485.9 273.0 489.0 269.0 491.9 265.0 494.8 260.8 497.5 256.7 500.2 252.4 502.9 248.2" fill="none" stroke="#333" stroke-width="0.45" stroke-opacity="0.75"/>
<path d="M324.3 248.0 324.3 253.4 324.4 258.8 324.4 264.2 324.5 269.6 324.6 275.0 324.7 280.4 324.9 285.8 325.1 291.2 325.2 296.6 325.3 302.0 325.4 307.4 325.5 312.8 325.6 318.3 325.8 323.7 326.2 329.0 326.8 334.4 329.0 339.3 333.0 342.9 338.0 344.9 343.2 346.4 348.4 347.6 353.7 348.9 358.9 350.1 364.2 351.4 369.4 352.7 374.6 354.2 379.7 356.1 384.7 358.2 389.7 360.1 394.9 361.6 400.1 363.2 405.1 365.1 410.0 367.4 414.9 369.7 419.8 372.1 424.5 374.7 429.0 377.7 433.5 380.7 438.2 383.3 443.2 385.4 448.4 387.0 453.6 388.3 458.9 389.4 464.2 390.3 469.6 391.1 474.9 391.8 480.3 392.5" fill="none" stroke="#22a022" stroke-width="0.55" stroke-opacity="0.85"/>
<path d="M324.3 248.0 324.3 253.4 324.4 258.8 324.4 264.2 324.5 269.6 324.6 275.0 324.7 280.4 324.9 285.8 325.0 291.2 325.2 296.6 325.3 302.0 325.4 307.4 325.5 312.8 325.6 318.2 325.8 323.6 326.2 328.9 326.8 334.3 328.9 339.2 332.8 342.8 337.8 344.9 343.0 346.4 348.2 347.6 353.5 348.9 358.7 350.2 363.9 351.5 369.1 352.9 374.3 354.4 379.4 356.3 384.3 358.5 389.4 360.4 394.5 361.9 399.7 363.5 404.7 365.4 409.6 367.7 414.5 370.0 419.3 372.4 424.1 375.0 428.6 378.0 433.1 380.9 437.8 383.5 442.8 385.5 448.0 387.0 453.2 388.3 458.5 389.4 463.8 390.3 469.2 391.1 474.5 391.8 479.9 392.5" fill="none" stroke="#22a022" stroke-width="0.55" stroke-opacity="0.85"/>
<path d="M324.3 248.0 324.3 253.4 324.4 258.8 324.4 264.2 324.5 269.6 324.6 275.0 324.7 280.3 324.9 285.7 325.0 291.1 325.2 296.5 325.3 301.9 325.4 307.3 325.5 312.7 325.6 318.1 325.8 323.5 326.2 328.8 326.8 334.2 328.8 339.1 332.6 342.8 337.6 344.9 342.7 346.4 348.0 347.7 353.2 348.9 358.5 350.3 363.7 351.6 368.9 353.0 374.0 354.6 379.0 356.5 384.0 358.7 389.0 360.6 394.2 362.1 399.3 363.7 404.3 365.7 409.2 368.0 414.1 370.3 418.9 372.7 423.6 375.3 428.1 378.3 432.7 381.2 437.4 383.6 442.5 385.5 447.6 387.0 452.9 388.3 458.1 389.4 463.5 390.3 468.8 391.1 474.1 391.8 479.5 392.5" fill="none" stroke="#22a022" stroke-width="0.55" stroke-opacity="0.85"/>
<path d="M324.3 248.0 324.3 253.4 324.4 258.8 324.4 264.2 324.5 269.5 324.6 274.9 324.7 280.3 324.9 285.7 325.0 291.1 325.2 296.4 325.3 301.8 325.4 307.2 325.5 312.6 325.6 318.0 325.8 323.4 326.2 328.7 326.8 334.1 328.7 339.0 332.5 342.7 337.4 345.0 342.5 346.5 347.8 347.7 353.0 349.0 358.2 350.3 363.4 351.7 368.6 353.2 373.7 354.8 378.7 356.8 383.6 358.9 388.7 360.8 393.8 362.4 398.9 364.0 403.9 366.0 408.8 368.3 413.7 370.6 418.5 373.0 423.2 375.7 427.7 378.6 432.3 381.4 437.1 383.8 442.1 385.6 447.3 387.1 452.5 388.4 457.8 389.4 463.1 390.3 468.4 391.1 473.7 391.8 479.1 392.5" fill="none" stroke="#22a022" stroke-width="0.55" stroke-opacity="0.85"/>
<path d="M324.3 248.0 324.3 253.4 324.4 258.8 324.4 264.1 324.5 269.5 324.6 274.9 324.7 280.3 324.9 285.6 325.0 291.0 325.2 296.4 325.3 301.8 325.4 307.1 325.5 312.5 325.6 317.9 325.8 323.3 326.2 328.6 326.8 334.0 328.6 338.9 332.3 342.7 337.1 345.0 342.3 346.5 347.5 347.8 352.8 349.0 358.0 350.4 363.1 351.8 368.3 353.3 373.3 355.0 378.3 357.0 383.3 359.2 388.3 361.1 393.4 362.6 398.5 364.3 403.5 366.3 408.4 368.6 413.2 370.9 418.0 373.4 422.7 376.0 427.3 378.8 431.9 381.6 436.7 383.9 441.7 385.7 446.9 387.1 452.1 388.4 457.4 389.5 462.7 390.3 468.0 391.1 473.3 391.8 478.7 392.5" fill="none" stroke="#22a022" stroke-width="0.55" stroke-opacity="0.85"/>
<path d="M324.3 248.0 324.3 253.4 324.4 258.7 324.4 264.1 324.5 269.5 324.6 274.9 324.7 280.2 324.9 285.6 325.0 291.0 325.2 296.3 325.3 301.7 325.4 307.1 325.5 312.4 325.6 317.8 325.8 323.2 326.2 328.5 326.8 333.9 328.5 338.9 332.1 342.7 336.9 345.0 342.1 346.5 347.3 347.8 352.5 349.1 357.7 350.4 362.9 351.9 368.0 353.5 373.0 355.2 378.0 357.2 382.9 359.4 387.9 361.3 393.1 362.9 398.1 364.6 403.1 366.6 408.0 368.9 412.8 371.3 417.6 373.7 422.3 376.3 426.8 379.1 431.4 381.8 436.3 384.0 441.3 385.8 446.5 387.2 451.7 388.4 457.0 389.5 462.3 390.3 467.6 391.1 472.9 391.8 478.3 392.5" fill="none" stroke="#22a022" stroke-width="0.55" stroke-opacity="0.85"/>
<path d="M324.3 248.0 324.3 253.4 324.4 258.7 324.4 264.1 324.5 269.5 324.6 274.8 324.7 280.2 324.9 285.5 325.0 290.9 325.2 296.3 325.3 301.6 325.4 307.0 325.5 312.4 325.6 317.7 325.8 323.1 326.2 328.4 326.8 333.8 328.4 338.8 331.9 342.6 336.7 345.0 341.9 346.5 347.1 347.8 352.3 349.1 357.5 350.5 362.6 352.0 367.7 353.6 372.7 355.4 377.7 357.5 382.6 359.6 387.6 361.5 392.7 363.1 397.8 364.9 402.7 366.9 407.6 369.2 412.4 371.6 417.1 374.0 421.8 376.6 426.4 379.4 431.0 382.0 435.9 384.2 441.0 385.8 446.1 387.2 451.4 388.4 456.6 389.5 461.9 390.4 467.2 391.1 472.5 391.8 477.9 392.5" fill="none" stroke="#22a022" stroke-width="0.55" stroke-opacity="0.85"/>
<path d="M324.3 248.0 324.3 253.4 324.4 258.7 324.4 264.1 324.5 269.4 324.6 274.8 324.7 280.1 324.9 285.5 325.0 290.8 325.2 296.2 325.3 301.6 325.4 306.9 325.5 312.3 325.6 317.6 325.8 323.0 326.2 328.3 326.8 333.6 328.3 338.7 331.8 342.6 336.5 345.0 341.6 346.6 346.8 347.9 352.0 349.1 357.2 350.5 362.3 352.1 367.4 353.8 372.4 355.6 377.3 357.7 382.2 359.8 387.2 361.7 392.3 363.4 397.4 365.2 402.3 367.2 407.2 369.5 412.0 371.9 416.7 374.3 421.4 376.9 426.0 379.7 430.6 382.3 435.5 384.3 440.6 385.9 445.8 387.2 451.0 388.4 456.2 389.5 461.5 390.4 466.8 391.1 472.1 391.8 477.5 392.5" fill="none" stroke="#22a022" stroke-width="0.55" stroke-opacity="0.85"/>
<path d="M324.3 248.0 324.3 253.4 324.4 258.7 324.4 264.1 324.5 269.4 324.6 274.8 324.7 280.1 324.9 285.4 325.0 290.8 325.2 296.1 325.3 301.5 325.4 306.8 325.5 312.2 325.6 317.5 325.8 322.9 326.2 328.2 326.8 333.5 328.2 338.6 331.6 342.6 336.3 345.0 341.4 346.6 346.6 347.9 351.8 349.2 357.0 350.6 362.0 352.2 367.1 353.9 372.1 355.8 377.0 357.9 381.9 360.1 386.9 362.0 391.9 363.7 397.0 365.4 401.9 367.5 406.8 369.8 411.5 372.2 416.3 374.7 421.0 377.3 425.5 380.0 430.2 382.5 435.1 384.4 440.2 386.0 445.4 387.3 450.6 388.5 455.9 389.5 461.1 390.4 466.4 391.1 471.7 391.8 477.1 392.5" fill="none" stroke="#22a022" stroke-width="0.55" stroke-opacity="0.85"/>
<path d="M324.3 248.0 324.3 253.3 324.4 258.7 324.4 264.0 324.5 269.4 324.6 274.7 324.7 280.1 324.9 285.4 325.0 290.7 325.2 296.1 325.3 301.4 325.4 306.8 325.5 312.1 325.6 317.5 325.8 322.8 326.2 328.1 326.8 333.4 328.1 338.5 331.4 342.5 336.1 345.0 341.2 346.6 346.4 347.9 351.6 349.2 356.7 350.6 361.8 352.3 366.8 354.1 371.7 356.0 376.6 358.1 381.5 360.3 386.5 362.2 391.6 363.9 396.6 365.7 401.5 367.8 406.3 370.1 411.1 372.5 415.8 375.0 420.5 377.6 425.1 380.3 429.8 382.7 434.7 384.6 439.9 386.0 445.0 387.3 450.2 388.5 455.5 389.5 460.8 390.4 466.1 391.1 471.3 391.8 476.7 392.5" fill="none" stroke="#22a022" stroke-width="0.55" stroke-opacity="0.85"/>
<path d="M324.3 248.0 324.3 253.3 324.4 258.7 324.4 264.0 324.5 269.3 324.6 274.7 324.7 280.0 324.9 285.4 325.0 290.7 325.2 296.0 325.3 301.4 325.4 306.7 325.5 312.0 325.6 317.4 325.8 322.7 326.2 328.0 326.8 333.3 328.0 338.4 331.2 342.5 335.9 345.0 341.0 346.7 346.2 348.0 351.3 349.3 356.5 350.7 361.5 352.4 366.5 354.3 371.4 356.2 376.3 358.4 381.2 360.5 386.2 362.4 391.2 364.2 396.2 366.0 401.1 368.1 405.9 370.4 410.7 372.8 415.4 375.3 420.1 377.9 424.7 380.6 429.4 382.9 434.4 384.7 439.5 386.1 444.7 387.4 449.9 388.5 455.1 389.6 460.4 390.4 465.7 391.1 471.0 391.8 476.2 392.5" fill="none" stroke="#22a022" stroke-width="0.55" stroke-opacity="0.85"/>
<path d="M324.3 248.0 324.3 253.3 324.4 258.7 324.4 264.0 324.5 269.3 324.6 274.6 324.7 280.0 324.9 285.3 325.0 290.6 325.2 296.0 325.3 301.3 325.4 306.6 325.5 311.9 325.6 317.3 325.8 322.6 326.2 327.9 326.8 333.2 327.9 338.3 331.1 342.5 335.7 345.0 340.8 346.7 345.9 348.0 351.1 349.3 356.2 350.8 361.2 352.5 366.2 354.4 371.1 356.4 375.9 358.6 380.8 360.7 385.8 362.7 390.8 364.4 395.8 366.3 400.7 368.4 405.5 370.7 410.2 373.1 415.0 375.6 419.6 378.2 424.2 380.9 429.0 383.2 434.0 384.8 439.1 386.2 444.3 387.4 449.5 388.5 454.7 389.6 460.0 390.4 465.3 391.1 470.6 391.8 475.8 392.5" fill="none" stroke="#22a022" stroke-width="0.55" stroke-opacity="0.85"/>
<path d="M324.3 248.0 324.3 253.3 324.4 258.6 324.4 264.0 324.5 269.3 324.6 274.6 324.7 279.9 324.9 285.3 325.0 290.6 325.2 295.9 325.3 301.2 325.4 306.5 325.5 311.9 325.6 317.2 325.8 322.5 326.2 327.8 326.8 333.1 327.9 338.2 330.9 342.4 335.5 345.0 340.5 346.7 345.7 348.0 350.9 349.3 356.0 350.8 361.0 352.6 365.9 354.6 370.8 356.6 375.6 358.8 380.5 361.0 385.4 362.9 390.5 364.7 395.4 366.6 400.3 368.7 405.1 371.0 409.8 373.4 414.5 376.0 419.2 378.5 423.8 381.2 428.6 383.4 433.6 385.0 438.7 386.2 443.9 387.4 449.1 388.6 454.3 389.6 459.6 390.4 464.9 391.1 470.2 391.8 475.4 392.5" fill="none" stroke="#22a022" stroke-width="0.55" stroke-opacity="0.85"/>
<path d="M324.3 248.0 324.3 253.3 324.4 258.6 324.4 263.9 324.5 269.3 324.6 274.6 324.7 279.9 324.9 285.2 325.0 290.5 325.2 295.8 325.3 301.2 325.4 306.5 325.5 311.8 325.6 317.1 325.8 322.4 326.2 327.7 326.8 333.0 327.8 338.1 330.7 342.4 335.3 345.0 340.3 346.8 345.5 348.1 350.6 349.4 355.7 350.9 360.7 352.7 365.6 354.7 370.4 356.8 375.3 359.1 380.1 361.2 385.1 363.1 390.1 364.9 395.0 366.9 399.9 369.0 404.7 371.3 409.4 373.8 414.1 376.3 418.7 378.8 423.3 381.5 428.2 383.6 433.2 385.1 438.4 386.3 443.5 387.5 448.7 388.6 454.0 389.6 459.2 390.4 464.5 391.1 469.8 391.8 475.0 392.5" fill="none" stroke="#22a022" stroke-width="0.55" stroke-opacity="0.85"/>
<path d="M324.3 248.0 324.3 253.3 324.4 258.6 324.4 263.9 324.5 269.2 324.6 274.5 324.7 279.9 324.9 285.2 325.0 290.5 325.2 295.8 325.3 301.1 325.4 306.4 325.5 311.7 325.6 317.0 325.8 322.3 326.2 327.6 326.8 332.9 327.7 338.1 330.5 342.4 335.1 345.0 340.1 346.8 345.2 348.1 350.4 349.4 355.5 350.9 360.4 352.8 365.3 354.9 370.1 357.1 374.9 359.3 379.8 361.4 384.7 363.3 389.7 365.2 394.6 367.1 399.5 369.3 404.3 371.6 409.0 374.1 413.6 376.6 418.3 379.2 422.9 381.8 427.8 383.8 432.8 385.3 438.0 386.4 443.2 387.5 448.4 388.6 453.6 389.6 458.8 390.4 464.1 391.2 469.4 391.8 474.6 392.5" fill="none" stroke="#22a022" stroke-width="0.55" stroke-opacity="0.85"/>
<path d="M324.3 248.0 324.3 253.3 324.4 258.6 324.4 263.9 324.5 269.2 324.6 274.5 324.7 279.8 324.9 285.1 325.0 290.4 325.2 295.7 325.3 301.0 325.4 306.3 325.5 311.6 325.6 316.9 325.8 322.2 326.2 327.5 326.8 332.8 327.6 338.0 330.4 342.3 334.9 345.1 339.9 346.8 345.0 348.1 350.2 349.4 355.2 351.0 360.2 352.9 365.0 355.0 369.8 357.3 374.6 359.5 379.4 361.7 384.4 363.6 389.3 365.4 394.2 367.4 399.1 369.6 403.9 371.9 408.5 374.4 413.2 376.9 417.8 379.5 422.5 382.1 427.4 384.1 432.4 385.4 437.6 386.5 442.8 387.5 448.0 388.6 453.2 389.6 458.4 390.5 463.7 391.2 469.0 391.8 474.2 392.5" fill="none" stroke="#22a022" stroke-width="0.55" stroke-opacity="0.85"/>
<path d="M324.3 248.0 324.3 253.3 324.4 258.6 324.4 263.9 324.5 269.2 324.6 274.5 324.7 279.8 324.8 285.1 325.0 290.4 325.2 295.7 325.3 300.9 325.4 306.2 325.5 311.5 325.6 316.8 325.8 322.1 326.2 327.4 326.8 332.7 327.5 337.9 330.2 342.3 334.7 345.1 339.7 346.9 344.8 348.2 349.9 349.5 355.0 351.0 359.9 353.0 364.7 355.2 369.5 357.5 374.2 359.8 379.1 361.9 384.0 363.8 389.0 365.7 393.9 367.7 398.7 369.9 403.5 372.2 408.1 374.7 412.8 377.2 417.4 379.8 422.0 382.3 426.9 384.3 432.1 385.5 437.2 386.5 442.4 387.6 447.6 388.7 452.8 389.6 458.1 390.5 463.3 391.2 468.6 391.8 473.8 392.5" fill="none" stroke="#22a022" stroke-width="0.55" stroke-opacity="0.85"/>
<path d="M324.3 248.0 324.3 253.3 324.4 258.6 324.4 263.9 324.5 269.2 324.6 274.4 324.7 279.7 324.8 285.0 325.0 290.3 325.2 295.6 325.3 300.9 325.4 306.2 325.5 311.5 325.6 316.7 325.8 322.0 326.2 327.3 326.8 332.6 327.4 337.8 330.0 342.3 334.5 345.1 339.4 346.9 344.6 348.2 349.7 349.5 354.7 351.1 359.6 353.1 364.4 355.3 369.1 357.7 373.9 360.0 378.7 362.1 383.7 364.0 388.6 365.9 393.5 368.0 398.3 370.2 403.0 372.5 407.7 375.0 412.3 377.6 417.0 380.1 421.6 382.6 426.5 384.5 431.7 385.7 436.9 386.6 442.1 387.6 447.2 388.7 452.4 389.7 457.7 390.5 462.9 391.2 468.2 391.9 473.4 392.5" fill="none" stroke="#22a022" stroke-width="0.55" stroke-opacity="0.85"/>
<path d="M324.3 248.0 324.3 253.3 324.4 258.6 324.4 263.8 324.5 269.1 324.6 274.4 324.7 279.7 324.8 285.0 325.0 290.3 325.2 295.5 325.3 300.8 325.4 306.1 325.5 311.4 325.6 316.7 325.8 321.9 326.2 327.2 326.8 332.4 327.3 337.7 329.9 342.2 334.3 345.1 339.2 346.9 344.3 348.3 349.4 349.6 354.5 351.1 359.4 353.2 364.1 355.5 368.8 357.9 373.6 360.2 378.4 362.3 383.3 364.3 388.2 366.2 393.1 368.3 397.9 370.5 402.6 372.8 407.3 375.3 411.9 377.9 416.5 380.4 421.2 382.9 426.1 384.7 431.3 385.8 436.5 386.7 441.7 387.7 446.9 388.7 452.1 389.7 457.3 390.5 462.5 391.2 467.8 391.9 473.0 392.5" fill="none" stroke="#22a022" stroke-width="0.55" stroke-opacity="0.85"/>
<path d="M324.0 392.5 327.0 389.5 330.1 386.5 333.3 383.7 336.8 381.4 340.6 379.4 344.4 377.5 348.2 375.4 351.6 373.0 354.8 370.2 357.8 367.1 360.5 363.8 363.2 360.5 365.7 357.0 367.9 353.4 370.1 349.7 372.4 346.2 375.1 342.8 377.9 339.6 380.9 336.6 384.1 333.8 387.8 331.6 391.7 330.0 395.7 328.5 399.6 326.7 403.4 324.8 407.2 322.8 410.9 320.7 414.5 318.4 417.9 315.9 421.2 313.2 424.4 310.3 427.4 307.3 430.1 304.1 432.7 300.7 435.0 297.1 436.9 293.3 438.6 289.4 440.1 285.4 441.4 281.3 442.6 277.2 443.8 273.1 444.9 269.0 445.9 264.9 446.9 260.7 447.8 256.5 448.7 252.4 449.6 248.2" fill="none" stroke="#2aa02a" stroke-width="0.5" stroke-opacity="0.8"/>
<path d="M324.0 392.5 327.0 389.5 330.1 386.5 333.3 383.7 336.9 381.4 340.8 379.4 344.6 377.5 348.3 375.4 351.9 373.0 355.1 370.1 358.0 367.0 360.8 363.8 363.5 360.4 366.0 357.0 368.3 353.4 370.5 349.7 372.9 346.1 375.6 342.8 378.4 339.6 381.5 336.6 384.8 333.8 388.4 331.6 392.4 330.0 396.4 328.5 400.3 326.7 404.1 324.7 407.9 322.7 411.6 320.6 415.2 318.3 418.7 315.8 422.1 313.2 425.3 310.4 428.3 307.3 431.2 304.1 433.8 300.7 436.1 297.1 438.1 293.4 439.9 289.5 441.4 285.5 442.8 281.4 444.1 277.3 445.3 273.2 446.4 269.1 447.5 265.0 448.5 260.8 449.4 256.6 450.3 252.4 451.2 248.2" fill="none" stroke="#2aa02a" stroke-width="0.5" stroke-opacity="0.8"/>
<path d="M324.0 392.5 327.1 389.5 330.2 386.5 333.4 383.6 337.0 381.4 340.9 379.4 344.8 377.6 348.5 375.5 352.1 373.0 355.3 370.1 358.3 367.0 361.1 363.7 363.8 360.4 366.4 356.9 368.7 353.3 370.9 349.7 373.4 346.1 376.1 342.7 379.0 339.5 382.0 336.5 385.4 333.9 389.1 331.7 393.1 330.1 397.1 328.5 401.0 326.7 404.8 324.7 408.6 322.7 412.4 320.5 416.0 318.2 419.6 315.8 423.0 313.2 426.2 310.4 429.3 307.4 432.2 304.2 434.9 300.8 437.2 297.2 439.3 293.5 441.1 289.6 442.7 285.6 444.1 281.5 445.5 277.4 446.8 273.3 448.0 269.2 449.1 265.0 450.1 260.9 451.0 256.6 451.8 252.4 452.7 248.2" fill="none" stroke="#2aa02a" stroke-width="0.5" stroke-opacity="0.8"/>
<path d="M324.0 392.5 327.1 389.5 330.2 386.4 333.5 383.6 337.2 381.4 341.1 379.5 345.0 377.6 348.7 375.5 352.3 373.0 355.5 370.1 358.5 367.0 361.3 363.7 364.1 360.4 366.7 356.9 369.1 353.3 371.4 349.6 373.8 346.0 376.6 342.7 379.5 339.5 382.6 336.5 386.0 333.9 389.8 331.7 393.8 330.1 397.8 328.5 401.7 326.6 405.6 324.6 409.4 322.6 413.1 320.5 416.8 318.2 420.4 315.7 423.8 313.2 427.2 310.4 430.3 307.5 433.2 304.3 435.9 300.9 438.3 297.3 440.5 293.5 442.3 289.7 444.0 285.7 445.5 281.6 446.9 277.6 448.3 273.5 449.5 269.3 450.6 265.1 451.6 260.9 452.6 256.7 453.4 252.4 454.3 248.2" fill="none" stroke="#2aa02a" stroke-width="0.5" stroke-opacity="0.8"/>
<path d="M324.0 392.5 327.1 389.5 330.2 386.4 333.6 383.6 337.3 381.4 341.2 379.5 345.1 377.6 348.9 375.5 352.5 373.0 355.7 370.1 358.7 366.9 361.6 363.7 364.4 360.3 367.1 356.9 369.5 353.3 371.8 349.6 374.3 346.0 377.1 342.7 380.0 339.5 383.2 336.5 386.6 333.9 390.4 331.8 394.5 330.1 398.5 328.5 402.4 326.6 406.3 324.6 410.1 322.5 413.9 320.4 417.6 318.1 421.2 315.6 424.7 313.1 428.1 310.5 431.3 307.5 434.2 304.3 437.0 300.9 439.5 297.4 441.6 293.6 443.6 289.8 445.3 285.8 446.9 281.8 448.3 277.7 449.7 273.6 451.1 269.4 452.2 265.2 453.2 261.0 454.1 256.7 455.0 252.5 455.8 248.2" fill="none" stroke="#2aa02a" stroke-width="0.5" stroke-opacity="0.8"/>
<path d="M324.0 392.5 327.1 389.5 330.3 386.4 333.6 383.6 337.4 381.4 341.3 379.5 345.3 377.7 349.1 375.5 352.7 372.9 356.0 370.1 359.0 366.9 361.9 363.6 364.7 360.3 367.4 356.8 369.9 353.2 372.2 349.5 374.7 346.0 377.5 342.6 380.5 339.4 383.8 336.5 387.3 333.9 391.1 331.8 395.1 330.2 399.2 328.5 403.1 326.6 407.0 324.6 410.8 322.5 414.6 320.3 418.4 318.0 422.0 315.6 425.6 313.1 429.0 310.5 432.3 307.6 435.3 304.4 438.1 301.0 440.6 297.5 442.8 293.7 444.8 289.9 446.6 285.9 448.2 281.9 449.8 277.8 451.2 273.7 452.6 269.5 453.8 265.3 454.8 261.1 455.7 256.8 456.6 252.5 457.4 248.2" fill="none" stroke="#2aa02a" stroke-width="0.5" stroke-opacity="0.8"/>
<path d="M324.0 392.5 327.2 389.4 330.3 386.4 333.7 383.6 337.5 381.4 341.5 379.5 345.5 377.7 349.3 375.5 352.9 372.9 356.2 370.0 359.2 366.9 362.2 363.6 365.0 360.3 367.8 356.8 370.2 353.2 372.7 349.5 375.2 345.9 378.0 342.6 381.1 339.4 384.3 336.5 387.9 333.9 391.8 331.9 395.8 330.2 399.9 328.5 403.8 326.6 407.7 324.5 411.6 322.4 415.4 320.2 419.2 317.9 422.8 315.5 426.5 313.1 430.0 310.5 433.3 307.6 436.3 304.5 439.1 301.1 441.7 297.5 444.0 293.8 446.1 290.0 447.9 286.0 449.6 282.0 451.2 277.9 452.7 273.8 454.1 269.6 455.4 265.4 456.4 261.2 457.3 256.8 458.1 252.5 458.9 248.2" fill="none" stroke="#2aa02a" stroke-width="0.5" stroke-opacity="0.8"/>
<path d="M324.0 392.5 327.2 389.4 330.4 386.4 333.8 383.5 337.6 381.4 341.6 379.6 345.7 377.7 349.5 375.5 353.1 372.9 356.4 370.0 359.5 366.8 362.4 363.5 365.3 360.2 368.1 356.8 370.6 353.2 373.1 349.5 375.6 345.9 378.5 342.5 381.6 339.4 384.9 336.4 388.5 334.0 392.4 331.9 396.5 330.2 400.6 328.5 404.5 326.5 408.4 324.5 412.3 322.3 416.2 320.1 419.9 317.8 423.7 315.5 427.3 313.1 430.9 310.5 434.2 307.7 437.3 304.5 440.2 301.2 442.8 297.6 445.2 293.9 447.3 290.1 449.2 286.1 451.0 282.1 452.6 278.0 454.2 273.9 455.7 269.7 456.9 265.5 458.0 261.2 458.9 256.9 459.7 252.5 460.5 248.2" fill="none" stroke="#2aa02a" stroke-width="0.5" stroke-opacity="0.8"/>
<path d="M324.0 392.5 327.2 389.4 330.4 386.4 333.8 383.5 337.7 381.4 341.8 379.6 345.8 377.7 349.7 375.5 353.3 372.9 356.6 370.0 359.7 366.8 362.7 363.5 365.6 360.2 368.5 356.8 371.0 353.1 373.5 349.4 376.1 345.8 379.0 342.5 382.1 339.3 385.5 336.4 389.1 334.0 393.1 332.0 397.2 330.3 401.3 328.5 405.2 326.5 409.2 324.4 413.1 322.3 416.9 320.0 420.7 317.7 424.5 315.4 428.2 313.0 431.8 310.6 435.2 307.7 438.4 304.6 441.3 301.2 443.9 297.7 446.4 294.0 448.6 290.2 450.5 286.2 452.3 282.2 454.1 278.1 455.7 274.0 457.2 269.9 458.5 265.6 459.6 261.3 460.5 257.0 461.3 252.6 462.0 248.2" fill="none" stroke="#2aa02a" stroke-width="0.5" stroke-opacity="0.8"/>
<path d="M324.0 392.5 327.3 389.4 330.5 386.3 333.9 383.5 337.8 381.4 341.9 379.6 346.0 377.8 349.9 375.5 353.5 372.9 356.8 370.0 360.0 366.8 363.0 363.5 366.0 360.1 368.8 356.7 371.4 353.1 373.9 349.4 376.5 345.8 379.5 342.4 382.6 339.3 386.0 336.4 389.8 334.0 393.8 332.0 397.9 330.3 402.0 328.5 406.0 326.5 409.9 324.4 413.8 322.2 417.7 320.0 421.5 317.7 425.3 315.3 429.1 313.0 432.8 310.6 436.2 307.8 439.4 304.7 442.3 301.3 445.0 297.8 447.5 294.1 449.8 290.3 451.8 286.3 453.7 282.3 455.5 278.2 457.2 274.1 458.7 270.0 460.1 265.7 461.2 261.4 462.1 257.0 462.8 252.6 463.6 248.2" fill="none" stroke="#2aa02a" stroke-width="0.5" stroke-opacity="0.8"/>
<path d="M324.0 392.5 327.3 389.4 330.5 386.3 334.0 383.5 337.9 381.4 342.1 379.6 346.2 377.8 350.1 375.6 353.7 372.9 357.1 369.9 360.2 366.7 363.2 363.4 366.3 360.1 369.2 356.7 371.8 353.1 374.4 349.4 377.0 345.7 380.0 342.4 383.2 339.2 386.6 336.4 390.4 334.0 394.4 332.1 398.6 330.4 402.7 328.5 406.7 326.5 410.6 324.3 414.5 322.1 418.4 319.9 422.3 317.6 426.1 315.3 430.0 313.0 433.7 310.6 437.2 307.8 440.4 304.7 443.4 301.4 446.1 297.8 448.7 294.2 451.0 290.4 453.2 286.5 455.1 282.4 456.9 278.4 458.7 274.2 460.3 270.1 461.7 265.8 462.8 261.5 463.7 257.1 464.4 252.6 465.2 248.2" fill="none" stroke="#2aa02a" stroke-width="0.5" stroke-opacity="0.8"/>
<path d="M324.0 392.5 327.3 389.4 330.6 386.3 334.1 383.5 338.0 381.4 342.2 379.6 346.3 377.8 350.3 375.6 353.9 372.9 357.3 369.9 360.4 366.7 363.5 363.4 366.6 360.1 369.5 356.7 372.2 353.0 374.8 349.3 377.5 345.7 380.5 342.4 383.7 339.2 387.2 336.4 391.0 334.0 395.1 332.1 399.3 330.4 403.4 328.5 407.4 326.5 411.3 324.3 415.3 322.1 419.2 319.8 423.1 317.5 426.9 315.2 430.8 313.0 434.6 310.7 438.2 307.9 441.4 304.8 444.5 301.4 447.3 297.9 449.9 294.3 452.3 290.5 454.5 286.6 456.5 282.6 458.3 278.5 460.1 274.4 461.8 270.2 463.2 265.9 464.4 261.5 465.2 257.1 466.0 252.7 466.7 248.2" fill="none" stroke="#2aa02a" stroke-width="0.5" stroke-opacity="0.8"/>
<path d="M324.0 392.5 327.3 389.4 330.6 386.3 334.1 383.4 338.2 381.4 342.4 379.7 346.5 377.9 350.4 375.6 354.1 372.9 357.5 369.9 360.7 366.7 363.8 363.3 366.9 360.0 369.9 356.6 372.6 353.0 375.2 349.3 377.9 345.7 381.0 342.3 384.2 339.2 387.8 336.3 391.6 334.0 395.8 332.2 399.9 330.4 404.1 328.5 408.1 326.4 412.1 324.2 416.0 322.0 419.9 319.7 423.8 317.4 427.8 315.1 431.7 313.0 435.6 310.7 439.2 308.0 442.5 304.8 445.5 301.5 448.4 298.0 451.1 294.4 453.5 290.6 455.8 286.7 457.8 282.7 459.8 278.6 461.6 274.5 463.3 270.3 464.8 266.0 466.0 261.6 466.8 257.2 467.6 252.7 468.3 248.2" fill="none" stroke="#2aa02a" stroke-width="0.5" stroke-opacity="0.8"/>
<path d="M324.0 392.5 327.4 389.4 330.7 386.3 334.2 383.4 338.3 381.4 342.5 379.7 346.7 377.9 350.6 375.6 354.3 372.9 357.7 369.9 360.9 366.6 364.1 363.3 367.2 360.0 370.2 356.6 373.0 353.0 375.6 349.3 378.4 345.6 381.5 342.3 384.8 339.1 388.3 336.3 392.3 334.1 396.4 332.2 400.6 330.5 404.8 328.5 408.8 326.4 412.8 324.2 416.7 321.9 420.7 319.6 424.6 317.3 428.6 315.1 432.6 312.9 436.5 310.7 440.2 308.0 443.5 304.9 446.6 301.6 449.5 298.1 452.2 294.5 454.8 290.7 457.1 286.8 459.2 282.8 461.2 278.7 463.1 274.6 464.9 270.4 466.4 266.1 467.5 261.7 468.4 257.2 469.1 252.7 469.8 248.2" fill="none" stroke="#2aa02a" stroke-width="0.5" stroke-opacity="0.8"/>
<path d="M324.0 392.5 327.4 389.4 330.7 386.3 334.3 383.4 338.4 381.4 342.7 379.7 346.9 377.9 350.8 375.6 354.5 372.9 358.0 369.9 361.2 366.6 364.3 363.3 367.5 360.0 370.6 356.6 373.4 352.9 376.1 349.2 378.8 345.6 381.9 342.2 385.3 339.1 388.9 336.3 392.9 334.1 397.1 332.3 401.3 330.5 405.5 328.5 409.5 326.4 413.5 324.1 417.5 321.9 421.4 319.6 425.4 317.3 429.4 315.0 433.4 312.9 437.4 310.7 441.1 308.1 444.5 305.0 447.7 301.6 450.6 298.2 453.4 294.5 456.0 290.8 458.4 286.9 460.6 282.9 462.6 278.8 464.6 274.7 466.4 270.5 468.0 266.2 469.1 261.8 470.0 257.3 470.7 252.7 471.4 248.2" fill="none" stroke="#2aa02a" stroke-width="0.5" stroke-opacity="0.8"/>
<path d="M324.0 392.5 327.4 389.4 330.8 386.2 334.4 383.4 338.5 381.4 342.8 379.7 347.0 377.9 351.0 375.6 354.7 372.9 358.2 369.8 361.4 366.6 364.6 363.2 367.8 359.9 370.9 356.5 373.8 352.9 376.5 349.2 379.3 345.5 382.4 342.2 385.8 339.0 389.5 336.3 393.5 334.1 397.8 332.3 402.0 330.5 406.2 328.6 410.2 326.4 414.2 324.1 418.2 321.8 422.2 319.5 426.2 317.2 430.2 314.9 434.3 312.9 438.4 310.8 442.1 308.1 445.5 305.0 448.7 301.7 451.7 298.2 454.6 294.6 457.3 290.9 459.7 287.0 461.9 283.0 464.1 278.9 466.1 274.8 467.9 270.6 469.5 266.3 470.7 261.8 471.6 257.3 472.3 252.8 472.9 248.2" fill="none" stroke="#2aa02a" stroke-width="0.5" stroke-opacity="0.8"/>
<path d="M324.0 392.5 327.5 389.4 330.8 386.2 334.4 383.4 338.6 381.4 342.9 379.7 347.2 378.0 351.2 375.6 354.9 372.9 358.4 369.8 361.7 366.5 364.9 363.2 368.1 359.9 371.3 356.5 374.1 352.9 376.9 349.2 379.7 345.5 382.9 342.1 386.3 339.0 390.1 336.3 394.1 334.1 398.4 332.4 402.7 330.6 406.8 328.6 410.9 326.3 414.9 324.0 418.9 321.7 423.0 319.4 427.0 317.1 431.0 314.9 435.2 312.9 439.3 310.8 443.1 308.2 446.6 305.1 449.8 301.8 452.8 298.3 455.8 294.7 458.5 291.0 461.0 287.1 463.3 283.1 465.5 279.1 467.6 274.9 469.5 270.7 471.1 266.4 472.3 261.9 473.2 257.4 473.8 252.8 474.5 248.2" fill="none" stroke="#2aa02a" stroke-width="0.5" stroke-opacity="0.8"/>
<path d="M324.0 392.5 327.5 389.4 330.9 386.2 334.5 383.3 338.7 381.4 343.1 379.8 347.4 378.0 351.4 375.6 355.1 372.9 358.6 369.8 361.9 366.5 365.1 363.1 368.4 359.9 371.6 356.5 374.5 352.8 377.3 349.1 380.2 345.4 383.4 342.1 386.9 339.0 390.6 336.3 394.8 334.1 399.1 332.4 403.4 330.6 407.5 328.6 411.6 326.3 415.7 324.0 419.7 321.7 423.7 319.3 427.7 317.0 431.9 314.8 436.1 312.9 440.2 310.8 444.1 308.2 447.6 305.2 450.9 301.9 454.0 298.4 456.9 294.8 459.7 291.1 462.3 287.2 464.7 283.2 466.9 279.2 469.1 275.0 471.0 270.8 472.7 266.5 473.9 262.0 474.8 257.4 475.4 252.8 476.0 248.2" fill="none" stroke="#2aa02a" stroke-width="0.5" stroke-opacity="0.8"/>
<path d="M324.0 392.5 327.5 389.4 330.9 386.2 334.6 383.3 338.8 381.4 343.2 379.8 347.6 378.0 351.6 375.7 355.3 372.8 358.9 369.8 362.2 366.5 365.4 363.1 368.7 359.8 372.0 356.4 374.9 352.8 377.8 349.1 380.6 345.4 383.9 342.1 387.4 338.9 391.2 336.2 395.4 334.2 399.7 332.5 404.1 330.7 408.2 328.6 412.3 326.3 416.4 324.0 420.4 321.6 424.5 319.2 428.5 316.9 432.7 314.8 436.9 312.8 441.2 310.9 445.1 308.3 448.6 305.2 451.9 301.9 455.1 298.5 458.1 294.9 461.0 291.2 463.6 287.3 466.0 283.3 468.3 279.3 470.5 275.2 472.6 270.9 474.3 266.6 475.5 262.1 476.3 257.5 477.0 252.8 477.6 248.2" fill="none" stroke="#2aa02a" stroke-width="0.5" stroke-opacity="0.8"/>
<path d="M324.3 248.0 324.3 250.5 324.3 253.0 324.3 255.5 324.3 258.1 324.3 260.6 324.4 263.1 324.4 265.6 324.4 268.1 324.5 270.6 324.5 273.2 324.6 275.7 324.7 278.2 324.8 280.7 324.9 283.2 325.0 285.7 325.2 288.2 325.3 290.8 325.4 293.3 325.5 295.8 325.6 298.3 325.7 300.8 325.9 303.3 326.0 305.8 326.1 308.3 326.2 310.9 326.3 313.4 326.4 315.9 326.6 318.4 326.8 320.9 327.0 323.4 327.4 325.9 327.9 328.4 328.5 330.8 329.2 333.2 330.2 335.5 331.7 337.6 333.6 339.2 335.7 340.5 337.9 341.7 340.2 342.7 342.6 343.6 345.0 344.4 347.4 345.0 349.8 345.7 352.3 346.3 354.7 347.0 357.1 347.7 359.5 348.5 361.9 349.2 364.3 350.0 366.7 350.7 369.1 351.4 371.5 352.1 374.0 352.8 376.4 353.5 378.8 354.2 381.2 354.9 383.6 355.7 386.0 356.5 388.4 357.3 390.7 358.2 393.1 359.0 395.4 359.9 397.8 360.8 400.1 361.8 402.5 362.7 404.8 363.7 407.1 364.6 409.5 365.5 411.8 366.5 414.1 367.4 416.5 368.3 418.8 369.3 421.1 370.2 423.5 371.2 425.8 372.1 428.1 373.1 430.4 374.1 432.7 375.2 435.0 376.3 437.3 377.2 439.6 378.1 442.0 378.9 444.4 379.6 446.8 380.3 449.3 381.0 451.7 381.7 454.1 382.4 456.5 383.0 459.0 383.6 461.4 384.2 463.9 384.8 466.3 385.4 468.8 385.9 471.2 386.5 473.7 387.0 476.2 387.5 478.6 388.0 481.1 388.5 483.6 388.9 486.1 389.3 488.6 389.6 491.0 390.0 493.5 390.4 496.0 390.8 498.5 391.2 501.0 391.6 503.5 391.9 506.0 392.2 508.5 392.4 511.0 392.5" fill="none" stroke="#000" stroke-width="1.3" stroke-linejoin="round" stroke-linecap="round"/>
<path d="M324.0 392.5 325.7 390.7 327.5 388.9 329.3 387.2 331.2 385.5 333.1 383.9 335.1 382.4 337.2 381.1 339.4 379.9 341.7 378.7 343.9 377.6 346.1 376.4 348.2 375.1 350.3 373.7 352.2 372.1 354.1 370.4 355.9 368.7 357.6 366.9 359.3 365.0 360.9 363.1 362.5 361.2 364.2 359.3 365.8 357.4 367.4 355.4 369.0 353.5 370.5 351.6 372.1 349.6 373.7 347.7 375.3 345.8 376.9 343.8 378.6 342.0 380.2 340.1 382.0 338.3 383.9 336.7 385.9 335.2 388.1 334.0 390.4 333.0 392.7 332.1 395.1 331.4 397.6 330.7 400.0 330.1 402.4 329.4 404.8 328.7 407.2 328.0 409.6 327.2 411.9 326.3 414.3 325.4 416.6 324.5 418.9 323.5 421.2 322.5 423.4 321.4 425.6 320.2 427.8 319.0 430.1 317.9 432.3 316.8 434.6 315.8 436.9 314.7 439.1 313.6 441.4 312.5 443.5 311.2 445.6 309.8 447.7 308.4 449.7 306.9 451.7 305.4 453.7 303.9 455.6 302.3 457.5 300.7 459.4 299.0 461.2 297.3 463.0 295.6 464.8 293.8 466.5 291.9 468.1 290.1 469.7 288.1 471.2 286.1 472.7 284.1 474.1 282.0 475.4 279.8 476.6 277.7 477.8 275.5 479.0 273.3 480.1 271.0 481.2 268.8 482.3 266.5 483.4 264.3 484.5 262.0 485.5 259.7 486.5 257.4 487.5 255.1 488.5 252.8 489.4 250.5 490.4 248.2" fill="none" stroke="#000" stroke-width="1.3" stroke-linejoin="round" stroke-linecap="round"/>
<path d="M324.0 392.5 325.7 390.7 327.5 388.9 329.3 387.2 331.1 385.5 333.0 383.8 335.1 382.4 337.2 381.1 339.5 380.0 341.7 378.9 344.0 377.8 346.2 376.6 348.3 375.3 350.4 373.9 352.4 372.4 354.3 370.7 356.0 368.9 357.7 367.1 359.4 365.2 361.0 363.3 362.5 361.3 364.0 359.3 365.5 357.3 366.8 355.2 368.1 353.0 369.4 350.9 370.7 348.7 372.1 346.6 373.6 344.6 375.2 342.7 376.8 340.8 378.5 339.0 380.3 337.2 382.1 335.5 384.1 333.9 386.1 332.5 388.3 331.3 390.7 330.4 393.0 329.5 395.4 328.6 397.7 327.6 399.9 326.5 402.2 325.4 404.4 324.3 406.6 323.1 408.8 321.9 411.0 320.6 413.1 319.3 415.2 317.9 417.2 316.4 419.2 314.9 421.1 313.3 423.0 311.7 424.8 309.9 426.6 308.1 428.2 306.3 429.9 304.4 431.4 302.4 432.9 300.4 434.3 298.3 435.5 296.1 436.6 293.9 437.7 291.6 438.6 289.3 439.5 287.0 440.3 284.6 441.1 282.2 441.9 279.8 442.6 277.4 443.3 275.0 443.9 272.6 444.6 270.2 445.2 267.8 445.8 265.3 446.4 262.9 446.9 260.4 447.5 258.0 448.0 255.5 448.5 253.1 449.1 250.6 449.6 248.2" fill="none" stroke="#3a9a3a" stroke-width="0.6" stroke-opacity="0.8" stroke-linejoin="round" stroke-linecap="round"/>
<line x1="481.2" y1="261.4" x2="439" y2="261.4" stroke="#0a8a0a" stroke-width="1.5"/>
<path d="M433.6,261.4 L441,258.4 L441,264.4 Z" fill="#0a8a0a"/>
<text x="341.2" y="285.5" font-size="11.2" font-weight="bold" text-anchor="start" fill="#0a8a0a" stroke="#0a8a0a" stroke-width="0.18" textLength="76.5" lengthAdjust="spacingAndGlyphs" >Zn<tspan font-size="6.94" dy="2.24">0.9</tspan><tspan dy="-2.24">Co</tspan><tspan font-size="6.94" dy="2.24">0.1</tspan><tspan dy="-2.24">O</tspan>-1000</text>
<text x="434.2" y="331.8" font-size="10.6" font-weight="bold" text-anchor="start" fill="#000" stroke="#000" stroke-width="0.18" textLength="66.4" lengthAdjust="spacingAndGlyphs" >Zn<tspan font-size="6.57" dy="2.12">0.9</tspan><tspan dy="-2.12">Co</tspan><tspan font-size="6.57" dy="2.12">0.1</tspan><tspan dy="-2.12">O</tspan><tspan font-size="6.78" dy="-3.18" letter-spacing="0.3">nano</tspan></text>
<text x="473.7" y="369.2" font-size="10.4" font-weight="bold" text-anchor="start" fill="#000" stroke="#000" stroke-width="0.18" textLength="46.4" lengthAdjust="spacingAndGlyphs" >Cycle 2 - 20</text>
</svg></body></html>
